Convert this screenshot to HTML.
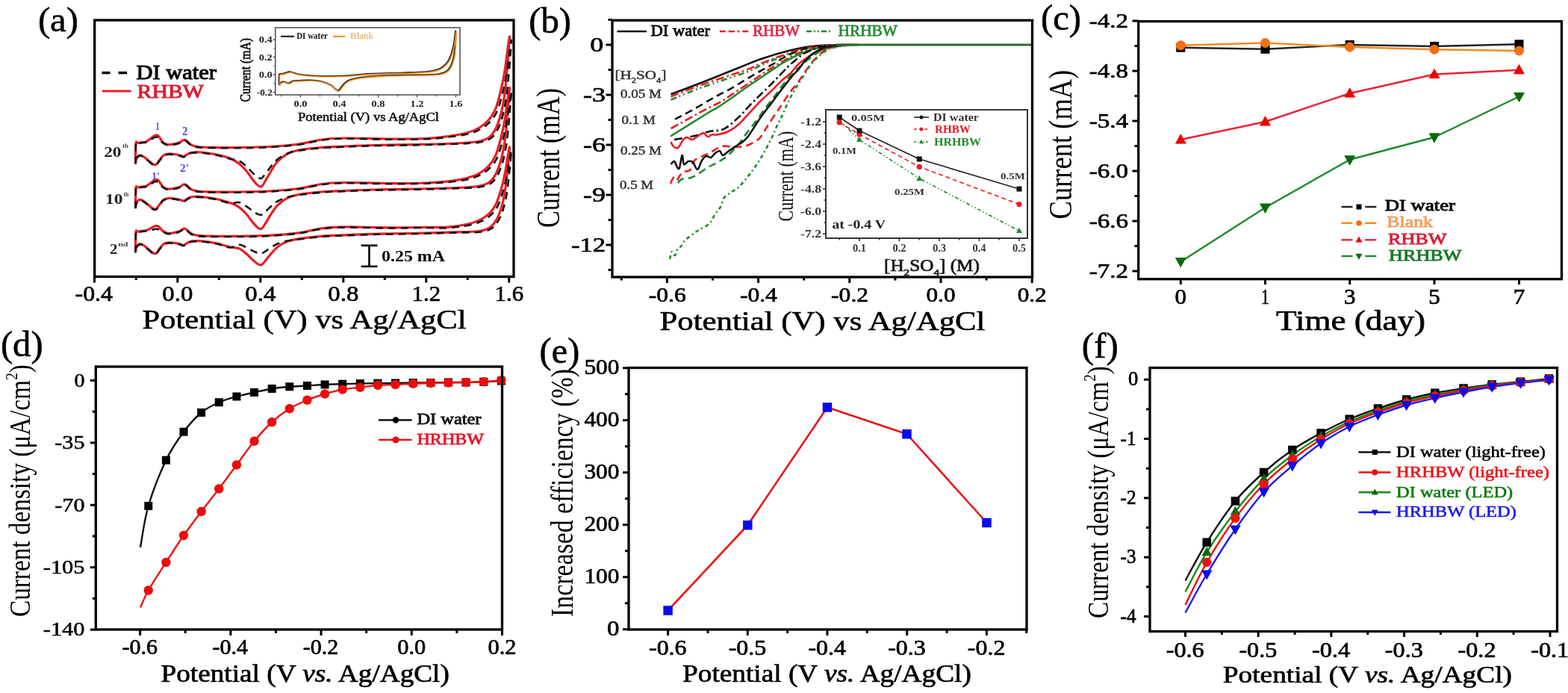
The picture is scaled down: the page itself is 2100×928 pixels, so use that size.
<!DOCTYPE html>
<html><head><meta charset="utf-8"><style>
html,body{margin:0;padding:0;background:#fff;}
svg{display:block;}
text{font-family:'Liberation Serif','Times New Roman',serif;}
</style></head><body>
<svg width="2100" height="928" viewBox="0 0 2100 928">
<rect x="0" y="0" width="2100" height="928" fill="#fff"/>
<path d="M181.5,219 C181.58,214.5 181.58,196.58 182,192 C182.42,187.42 182.67,191.75 184,191.5 C185.33,191.25 188.17,190.75 190,190.5 C191.83,190.25 193.33,190.58 195,190 C196.67,189.42 198.33,188.17 200,187 C201.67,185.83 203.58,184 205,183 C206.42,182 207.33,181.17 208.5,181 C209.67,180.83 210.92,181.17 212,182 C213.08,182.83 214,184.58 215,186 C216,187.42 216.5,189.25 218,190.5 C219.5,191.75 221.67,193.08 224,193.5 C226.33,193.92 229.33,193.42 232,193 C234.67,192.58 237.67,191.92 240,191 C242.33,190.08 244.5,188 246,187.5 C247.5,187 247.83,187.33 249,188 C250.17,188.67 251.67,190.42 253,191.5 C254.33,192.58 255,193.67 257,194.5 C259,195.33 261.17,196.03 265,196.5 C268.83,196.97 270.83,197.13 280,197.3 C289.17,197.47 306.67,197.63 320,197.5 C333.33,197.37 346.67,197.25 360,196.5 C373.33,195.75 389.17,194.42 400,193 C410.83,191.58 417.5,189.25 425,188 C432.5,186.75 437.5,186 445,185.5 C452.5,185 457.5,184.92 470,185 C482.5,185.08 503.33,185.92 520,186 C536.67,186.08 556.67,186.08 570,185.5 C583.33,184.92 590.83,183.75 600,182.5 C609.17,181.25 618,179.92 625,178 C632,176.08 637,174 642,171 C647,168 651.33,164.33 655,160 C658.67,155.67 661.33,151.67 664,145 C666.67,138.33 669,128.33 671,120 C673,111.67 674.5,104.17 676,95 C677.5,85.83 678.92,72.67 680,65 C681.08,57.33 682.33,48.17 682.5,49 C682.67,49.83 681.58,62.33 681,70 C680.42,77.67 679.83,85.83 679,95 C678.17,104.17 677.33,115.5 676,125 C674.67,134.5 673,144.17 671,152 C669,159.83 666.67,166.67 664,172 C661.33,177.33 659,181.08 655,184 C651,186.92 647.5,188.17 640,189.5 C632.5,190.83 623.33,191.33 610,192 C596.67,192.67 578.33,193.08 560,193.5 C541.67,193.92 516.67,194.08 500,194.5 C483.33,194.92 471.67,195.5 460,196 C448.33,196.5 440,196.67 430,197.5 C420,198.33 407.5,199.58 400,201 C392.5,202.42 389.67,203.5 385,206 C380.33,208.5 375.67,212.17 372,216 C368.33,219.83 365.83,224.5 363,229 C360.17,233.5 357.17,239.5 355,243 C352.83,246.5 351.67,249.17 350,250 C348.33,250.83 347,249.67 345,248 C343,246.33 340.5,243.17 338,240 C335.5,236.83 333,232.5 330,229 C327,225.5 323.67,221.83 320,219 C316.33,216.17 313,214 308,212 C303,210 296.33,208.33 290,207 C283.67,205.67 275.33,204.5 270,204 C264.67,203.5 261,203.67 258,204 C255,204.33 254,205.08 252,206 C250,206.92 247.83,209.17 246,209.5 C244.17,209.83 243,208.5 241,208 C239,207.5 236.5,206.83 234,206.5 C231.5,206.17 228.5,205.75 226,206 C223.5,206.25 221,206.67 219,208 C217,209.33 215.67,211.92 214,214 C212.33,216.08 210.5,219.5 209,220.5 C207.5,221.5 206.5,220.75 205,220 C203.5,219.25 201.83,217.5 200,216 C198.17,214.5 195.83,212.33 194,211 C192.17,209.67 190.5,208.33 189,208 C187.5,207.67 186.08,208.17 185,209 C183.92,209.83 183.08,211.33 182.5,213 C181.92,214.67 181.67,218 181.5,219" fill="none" stroke="#ec1c24" stroke-width="3.2" stroke-linejoin="round"/>
<path d="M181.5,278.5 C181.58,274 181.58,256.08 182,251.5 C182.42,246.92 182.67,251.25 184,251 C185.33,250.75 188.17,250.25 190,250 C191.83,249.75 193.33,250.08 195,249.5 C196.67,248.92 198.33,247.67 200,246.5 C201.67,245.33 203.58,243.5 205,242.5 C206.42,241.5 207.33,240.67 208.5,240.5 C209.67,240.33 210.92,240.67 212,241.5 C213.08,242.33 214,244.08 215,245.5 C216,246.92 216.5,248.75 218,250 C219.5,251.25 221.67,252.58 224,253 C226.33,253.42 229.33,252.92 232,252.5 C234.67,252.08 237.67,251.42 240,250.5 C242.33,249.58 244.5,247.5 246,247 C247.5,246.5 247.83,246.83 249,247.5 C250.17,248.17 251.67,249.92 253,251 C254.33,252.08 255,253.17 257,254 C259,254.83 261.17,255.53 265,256 C268.83,256.47 270.83,256.63 280,256.8 C289.17,256.97 306.67,257.13 320,257 C333.33,256.87 346.67,256.75 360,256 C373.33,255.25 389.17,253.92 400,252.5 C410.83,251.08 417.5,248.75 425,247.5 C432.5,246.25 437.5,245.5 445,245 C452.5,244.5 457.5,244.42 470,244.5 C482.5,244.58 503.33,245.42 520,245.5 C536.67,245.58 556.67,245.44 570,245 C583.33,244.56 590.83,243.94 600,242.88 C609.17,241.82 618,240.46 625,238.66 C632,236.86 637,234.9 642,232.08 C647,229.26 651.33,225.82 655,221.75 C658.67,217.68 661.33,213.92 664,207.66 C666.67,201.4 669,192.01 671,184.18 C673,176.36 674.5,169.31 676,160.7 C677.5,152.09 678.92,139.73 680,132.53 C681.08,125.33 682.33,116.72 682.5,117.5 C682.67,118.28 681.58,130.02 681,137.22 C680.42,144.42 679.83,152.09 679,160.7 C678.17,169.31 677.33,179.96 676,188.88 C674.67,197.8 673,206.88 671,214.24 C669,221.59 666.67,228.01 664,233.02 C661.33,238.03 659,241.55 655,244.29 C651,247.03 647.5,248.25 640,249.46 C632.5,250.66 623.33,250.91 610,251.5 C596.67,252.09 578.33,252.58 560,253 C541.67,253.42 516.67,253.58 500,254 C483.33,254.42 471.67,255 460,255.5 C448.33,256 440,256.17 430,257 C420,257.83 407.5,259.13 400,260.5 C392.5,261.87 389.67,262.85 385,265.19 C380.33,267.54 375.67,270.98 372,274.58 C368.33,278.18 365.83,282.56 363,286.79 C360.17,291.01 357.17,296.64 355,299.93 C352.83,303.21 351.67,305.72 350,306.5 C348.33,307.28 347,306.19 345,304.62 C343,303.06 340.5,300.09 338,297.11 C335.5,294.14 333,290.07 330,286.79 C327,283.5 323.67,279.95 320,277.4 C316.33,274.85 313,273.32 308,271.5 C303,269.68 296.33,267.83 290,266.5 C283.67,265.17 275.33,264 270,263.5 C264.67,263 261,263.17 258,263.5 C255,263.83 254,264.58 252,265.5 C250,266.42 247.83,268.67 246,269 C244.17,269.33 243,268 241,267.5 C239,267 236.5,266.33 234,266 C231.5,265.67 228.5,265.25 226,265.5 C223.5,265.75 221,266.17 219,267.5 C217,268.83 215.67,271.42 214,273.5 C212.33,275.58 210.5,279 209,280 C207.5,281 206.5,280.25 205,279.5 C203.5,278.75 201.83,277 200,275.5 C198.17,274 195.83,271.83 194,270.5 C192.17,269.17 190.5,267.83 189,267.5 C187.5,267.17 186.08,267.67 185,268.5 C183.92,269.33 183.08,270.83 182.5,272.5 C181.92,274.17 181.67,277.5 181.5,278.5" fill="none" stroke="#ec1c24" stroke-width="3.2" stroke-linejoin="round"/>
<path d="M181.5,337.8 C181.58,333.3 181.58,315.38 182,310.8 C182.42,306.22 182.67,310.55 184,310.3 C185.33,310.05 188.17,309.55 190,309.3 C191.83,309.05 193.33,309.23 195,308.8 C196.67,308.37 198.33,307.52 200,306.7 C201.67,305.88 203.58,304.6 205,303.9 C206.42,303.2 207.33,302.62 208.5,302.5 C209.67,302.38 210.92,302.62 212,303.2 C213.08,303.78 214,304.98 215,306 C216,307.02 216.5,308.25 218,309.3 C219.5,310.35 221.67,311.88 224,312.3 C226.33,312.72 229.33,312.22 232,311.8 C234.67,311.38 237.67,310.72 240,309.8 C242.33,308.88 244.5,306.8 246,306.3 C247.5,305.8 247.83,306.13 249,306.8 C250.17,307.47 251.67,309.22 253,310.3 C254.33,311.38 255,312.47 257,313.3 C259,314.13 261.17,314.83 265,315.3 C268.83,315.77 270.83,315.93 280,316.1 C289.17,316.27 306.67,316.43 320,316.3 C333.33,316.17 346.67,316.05 360,315.3 C373.33,314.55 389.17,313.22 400,311.8 C410.83,310.38 417.5,308.05 425,306.8 C432.5,305.55 437.5,304.8 445,304.3 C452.5,303.8 457.5,303.72 470,303.8 C482.5,303.88 503.33,304.72 520,304.8 C536.67,304.88 556.67,304.41 570,304.3 C583.33,304.19 590.83,304.77 600,304.14 C609.17,303.51 618,302.06 625,300.52 C632,298.98 637,297.31 642,294.89 C647,292.48 651.33,289.53 655,286.05 C658.67,282.57 661.33,279.35 664,273.99 C666.67,268.63 669,260.59 671,253.89 C673,247.19 674.5,241.16 676,233.79 C677.5,226.42 678.92,215.83 680,209.66 C681.08,203.5 682.33,196.13 682.5,196.8 C682.67,197.47 681.58,207.52 681,213.69 C680.42,219.85 679.83,226.42 679,233.79 C678.17,241.16 677.33,250.27 676,257.91 C674.67,265.55 673,273.32 671,279.62 C669,285.92 666.67,291.41 664,295.7 C661.33,299.99 659,303 655,305.35 C651,307.69 647.5,308.86 640,309.77 C632.5,310.68 623.33,310.38 610,310.8 C596.67,311.22 578.33,311.88 560,312.3 C541.67,312.72 516.67,312.88 500,313.3 C483.33,313.72 471.67,314.3 460,314.8 C448.33,315.3 440,315.47 430,316.3 C420,317.13 407.5,318.62 400,319.8 C392.5,320.98 389.67,321.59 385,323.37 C380.33,325.16 375.67,327.78 372,330.51 C368.33,333.25 365.83,336.59 363,339.8 C360.17,343.01 357.17,347.3 355,349.8 C352.83,352.3 351.67,354.2 350,354.8 C348.33,355.4 347,354.56 345,353.37 C343,352.18 340.5,349.92 338,347.66 C335.5,345.4 333,342.3 330,339.8 C327,337.3 323.67,334.16 320,332.66 C316.33,331.16 313,331.94 308,330.8 C303,329.66 296.33,327.13 290,325.8 C283.67,324.47 275.33,323.3 270,322.8 C264.67,322.3 261,322.47 258,322.8 C255,323.13 254,323.88 252,324.8 C250,325.72 247.83,327.97 246,328.3 C244.17,328.63 243,327.3 241,326.8 C239,326.3 236.5,325.63 234,325.3 C231.5,324.97 228.5,324.55 226,324.8 C223.5,325.05 221,325.47 219,326.8 C217,328.13 215.67,330.72 214,332.8 C212.33,334.88 210.5,338.3 209,339.3 C207.5,340.3 206.5,339.55 205,338.8 C203.5,338.05 201.83,336.3 200,334.8 C198.17,333.3 195.83,331.13 194,329.8 C192.17,328.47 190.5,327.13 189,326.8 C187.5,326.47 186.08,326.97 185,327.8 C183.92,328.63 183.08,330.13 182.5,331.8 C181.92,333.47 181.67,336.8 181.5,337.8" fill="none" stroke="#ec1c24" stroke-width="3.2" stroke-linejoin="round"/>
<path d="M181.5,219.7 C181.58,215.2 181.58,197.28 182,192.7 C182.42,188.12 182.67,192.45 184,192.2 C185.33,191.95 188.17,191.45 190,191.2 C191.83,190.95 193.33,191.18 195,190.7 C196.67,190.22 198.33,189.23 200,188.3 C201.67,187.37 203.58,185.9 205,185.1 C206.42,184.3 207.33,183.63 208.5,183.5 C209.67,183.37 210.92,183.63 212,184.3 C213.08,184.97 214,186.35 215,187.5 C216,188.65 216.5,190.08 218,191.2 C219.5,192.32 221.67,193.78 224,194.2 C226.33,194.62 229.33,194.12 232,193.7 C234.67,193.28 237.67,192.62 240,191.7 C242.33,190.78 244.5,188.7 246,188.2 C247.5,187.7 247.83,188.03 249,188.7 C250.17,189.37 251.67,191.12 253,192.2 C254.33,193.28 255,194.37 257,195.2 C259,196.03 261.17,196.73 265,197.2 C268.83,197.67 270.83,197.83 280,198 C289.17,198.17 306.67,198.33 320,198.2 C333.33,198.07 346.67,197.95 360,197.2 C373.33,196.45 389.17,195.12 400,193.7 C410.83,192.28 417.5,189.95 425,188.7 C432.5,187.45 437.5,186.7 445,186.2 C452.5,185.7 457.5,185.62 470,185.7 C482.5,185.78 503.33,186.62 520,186.7 C536.67,186.78 556.67,186.72 570,186.2 C583.33,185.68 590.42,184.76 600,183.59 C609.58,182.43 620.08,181.08 627.5,179.21 C634.92,177.35 639.5,175.32 644.5,172.4 C649.5,169.48 653.83,165.92 657.5,161.7 C661.17,157.48 663.83,153.59 666.5,147.11 C669.17,140.62 671.5,130.89 673.5,122.78 C675.5,114.67 677,107.38 678.5,98.46 C680,89.54 681.42,76.73 682.5,69.27 C683.58,61.81 684.83,52.89 685,53.7 C685.17,54.51 684.08,66.67 683.5,74.13 C682.92,81.59 682.33,89.54 681.5,98.46 C680.67,107.38 679.83,118.4 678.5,127.65 C677.17,136.89 675.5,146.29 673.5,153.92 C671.5,161.54 669.17,168.19 666.5,173.38 C663.83,178.56 661.5,182.21 657.5,185.05 C653.5,187.89 650,189.13 642.5,190.4 C635,191.68 626.25,192.07 612.5,192.7 C598.75,193.33 578.75,193.78 560,194.2 C541.25,194.62 516.67,194.78 500,195.2 C483.33,195.62 471.67,196.2 460,196.7 C448.33,197.2 440,197.37 430,198.2 C420,199.03 407.5,200.49 400,201.7 C392.5,202.91 389.67,203.59 385,205.48 C380.33,207.36 375.67,210.13 372,213.03 C368.33,215.92 365.83,219.44 363,222.84 C360.17,226.24 357.17,230.77 355,233.41 C352.83,236.06 351.67,238.07 350,238.7 C348.33,239.33 347,238.45 345,237.19 C343,235.93 340.5,233.54 338,231.15 C335.5,228.76 333,225.49 330,222.84 C327,220.2 323.67,216.98 320,215.29 C316.33,213.6 313,213.97 308,212.7 C303,211.43 296.33,209.03 290,207.7 C283.67,206.37 275.33,205.2 270,204.7 C264.67,204.2 261,204.37 258,204.7 C255,205.03 254,205.78 252,206.7 C250,207.62 247.83,209.87 246,210.2 C244.17,210.53 243,209.2 241,208.7 C239,208.2 236.5,207.53 234,207.2 C231.5,206.87 228.5,206.45 226,206.7 C223.5,206.95 221,207.37 219,208.7 C217,210.03 215.67,212.62 214,214.7 C212.33,216.78 210.5,220.2 209,221.2 C207.5,222.2 206.5,221.45 205,220.7 C203.5,219.95 201.83,218.2 200,216.7 C198.17,215.2 195.83,213.03 194,211.7 C192.17,210.37 190.5,209.03 189,208.7 C187.5,208.37 186.08,208.87 185,209.7 C183.92,210.53 183.08,212.03 182.5,213.7 C181.92,215.37 181.67,218.7 181.5,219.7" fill="none" stroke="#151515" stroke-width="2.6" stroke-dasharray="10,7" stroke-linejoin="round"/>
<path d="M181.5,279.2 C181.58,274.7 181.58,256.78 182,252.2 C182.42,247.62 182.67,251.95 184,251.7 C185.33,251.45 188.17,250.95 190,250.7 C191.83,250.45 193.33,250.68 195,250.2 C196.67,249.72 198.33,248.73 200,247.8 C201.67,246.87 203.58,245.4 205,244.6 C206.42,243.8 207.33,243.13 208.5,243 C209.67,242.87 210.92,243.13 212,243.8 C213.08,244.47 214,245.85 215,247 C216,248.15 216.5,249.58 218,250.7 C219.5,251.82 221.67,253.28 224,253.7 C226.33,254.12 229.33,253.62 232,253.2 C234.67,252.78 237.67,252.12 240,251.2 C242.33,250.28 244.5,248.2 246,247.7 C247.5,247.2 247.83,247.53 249,248.2 C250.17,248.87 251.67,250.62 253,251.7 C254.33,252.78 255,253.87 257,254.7 C259,255.53 261.17,256.23 265,256.7 C268.83,257.17 270.83,257.33 280,257.5 C289.17,257.67 306.67,257.83 320,257.7 C333.33,257.57 346.67,257.45 360,256.7 C373.33,255.95 389.17,254.62 400,253.2 C410.83,251.78 417.5,249.45 425,248.2 C432.5,246.95 437.5,246.2 445,245.7 C452.5,245.2 457.5,245.12 470,245.2 C482.5,245.28 503.33,246.12 520,246.2 C536.67,246.28 556.67,246.07 570,245.7 C583.33,245.33 590.42,244.95 600,243.97 C609.58,243 620.08,241.62 627.5,239.87 C634.92,238.12 639.5,236.22 644.5,233.48 C649.5,230.75 653.83,227.4 657.5,223.45 C661.17,219.5 663.83,215.85 666.5,209.77 C669.17,203.69 671.5,194.56 673.5,186.96 C675.5,179.36 677,172.52 678.5,164.16 C680,155.8 681.42,143.79 682.5,136.79 C683.58,129.8 684.83,121.44 685,122.2 C685.17,122.96 684.08,134.36 683.5,141.36 C682.92,148.35 682.33,155.8 681.5,164.16 C680.67,172.52 679.83,182.86 678.5,191.52 C677.17,200.19 675.5,209.01 673.5,216.15 C671.5,223.3 669.17,229.53 666.5,234.4 C663.83,239.26 661.5,242.68 657.5,245.34 C653.5,248 650,249.22 642.5,250.36 C635,251.5 626.25,251.64 612.5,252.2 C598.75,252.76 578.75,253.28 560,253.7 C541.25,254.12 516.67,254.28 500,254.7 C483.33,255.12 471.67,255.7 460,256.2 C448.33,256.7 440,256.87 430,257.7 C420,258.53 407.5,260.17 400,261.2 C392.5,262.23 389.67,262.55 385,263.9 C380.33,265.26 375.67,267.24 372,269.31 C368.33,271.39 365.83,273.91 363,276.34 C360.17,278.78 357.17,282.02 355,283.91 C352.83,285.81 351.67,287.25 350,287.7 C348.33,288.15 347,287.52 345,286.62 C343,285.72 340.5,284 338,282.29 C335.5,280.58 333,278.24 330,276.34 C327,274.45 323.67,271.63 320,270.93 C316.33,270.24 313,272.82 308,272.2 C303,271.58 296.33,268.53 290,267.2 C283.67,265.87 275.33,264.7 270,264.2 C264.67,263.7 261,263.87 258,264.2 C255,264.53 254,265.28 252,266.2 C250,267.12 247.83,269.37 246,269.7 C244.17,270.03 243,268.7 241,268.2 C239,267.7 236.5,267.03 234,266.7 C231.5,266.37 228.5,265.95 226,266.2 C223.5,266.45 221,266.87 219,268.2 C217,269.53 215.67,272.12 214,274.2 C212.33,276.28 210.5,279.7 209,280.7 C207.5,281.7 206.5,280.95 205,280.2 C203.5,279.45 201.83,277.7 200,276.2 C198.17,274.7 195.83,272.53 194,271.2 C192.17,269.87 190.5,268.53 189,268.2 C187.5,267.87 186.08,268.37 185,269.2 C183.92,270.03 183.08,271.53 182.5,273.2 C181.92,274.87 181.67,278.2 181.5,279.2" fill="none" stroke="#151515" stroke-width="2.6" stroke-dasharray="10,7" stroke-linejoin="round"/>
<path d="M181.5,338.5 C181.58,334 181.58,316.08 182,311.5 C182.42,306.92 182.67,311.25 184,311 C185.33,310.75 188.17,310.25 190,310 C191.83,309.75 193.33,309.73 195,309.5 C196.67,309.27 198.33,308.95 200,308.6 C201.67,308.25 203.58,307.7 205,307.4 C206.42,307.1 207.33,306.85 208.5,306.8 C209.67,306.75 210.92,306.85 212,307.1 C213.08,307.35 214,307.82 215,308.3 C216,308.78 216.5,309.22 218,310 C219.5,310.78 221.67,312.58 224,313 C226.33,313.42 229.33,312.92 232,312.5 C234.67,312.08 237.67,311.42 240,310.5 C242.33,309.58 244.5,307.5 246,307 C247.5,306.5 247.83,306.83 249,307.5 C250.17,308.17 251.67,309.92 253,311 C254.33,312.08 255,313.17 257,314 C259,314.83 261.17,315.53 265,316 C268.83,316.47 270.83,316.63 280,316.8 C289.17,316.97 306.67,317.13 320,317 C333.33,316.87 346.67,316.75 360,316 C373.33,315.25 389.17,313.92 400,312.5 C410.83,311.08 417.5,308.75 425,307.5 C432.5,306.25 437.5,305.5 445,305 C452.5,304.5 457.5,304.42 470,304.5 C482.5,304.58 503.33,305.42 520,305.5 C536.67,305.58 556.67,305.04 570,305 C583.33,304.96 590.42,305.78 600,305.23 C609.58,304.69 620.08,303.23 627.5,301.74 C634.92,300.25 639.5,298.63 644.5,296.3 C649.5,293.97 653.83,291.12 657.5,287.75 C661.17,284.38 663.83,281.27 666.5,276.09 C669.17,270.91 671.5,263.14 673.5,256.67 C675.5,250.19 677,244.37 678.5,237.24 C680,230.12 681.42,219.89 682.5,213.93 C683.58,207.98 684.83,200.85 685,201.5 C685.17,202.15 684.08,211.86 683.5,217.82 C682.92,223.77 682.33,230.12 681.5,237.24 C680.67,244.37 679.83,253.17 678.5,260.55 C677.17,267.94 675.5,275.45 673.5,281.53 C671.5,287.62 669.17,292.93 666.5,297.07 C663.83,301.22 661.5,304.13 657.5,306.4 C653.5,308.66 650,309.82 642.5,310.67 C635,311.52 626.25,311.11 612.5,311.5 C598.75,311.89 578.75,312.58 560,313 C541.25,313.42 516.67,313.58 500,314 C483.33,314.42 471.67,315 460,315.5 C448.33,316 440,316.17 430,317 C420,317.83 407.5,319.59 400,320.5 C392.5,321.41 389.67,321.47 385,322.44 C380.33,323.41 375.67,324.83 372,326.32 C368.33,327.8 365.83,329.61 363,331.36 C360.17,333.1 357.17,335.43 355,336.79 C352.83,338.14 351.67,339.18 350,339.5 C348.33,339.82 347,339.37 345,338.72 C343,338.08 340.5,336.85 338,335.62 C335.5,334.39 333,332.71 330,331.36 C327,330 323.67,327.46 320,327.48 C316.33,327.5 313,331.66 308,331.5 C303,331.34 296.33,327.83 290,326.5 C283.67,325.17 275.33,324 270,323.5 C264.67,323 261,323.17 258,323.5 C255,323.83 254,324.58 252,325.5 C250,326.42 247.83,328.67 246,329 C244.17,329.33 243,328 241,327.5 C239,327 236.5,326.33 234,326 C231.5,325.67 228.5,325.25 226,325.5 C223.5,325.75 221,326.17 219,327.5 C217,328.83 215.67,331.42 214,333.5 C212.33,335.58 210.5,339 209,340 C207.5,341 206.5,340.25 205,339.5 C203.5,338.75 201.83,337 200,335.5 C198.17,334 195.83,331.83 194,330.5 C192.17,329.17 190.5,327.83 189,327.5 C187.5,327.17 186.08,327.67 185,328.5 C183.92,329.33 183.08,330.83 182.5,332.5 C181.92,334.17 181.67,337.5 181.5,338.5" fill="none" stroke="#151515" stroke-width="2.6" stroke-dasharray="10,7" stroke-linejoin="round"/>
<rect x="126.7" y="27" width="561.3" height="343.5" fill="none" stroke="#000" stroke-width="3.3"/>
<line x1="237.8" y1="370.5" x2="237.8" y2="378.5" stroke="#000" stroke-width="3"/>
<line x1="348.8" y1="370.5" x2="348.8" y2="378.5" stroke="#000" stroke-width="3"/>
<line x1="459.8" y1="370.5" x2="459.8" y2="378.5" stroke="#000" stroke-width="3"/>
<line x1="570.8" y1="370.5" x2="570.8" y2="378.5" stroke="#000" stroke-width="3"/>
<line x1="681.8" y1="370.5" x2="681.8" y2="378.5" stroke="#000" stroke-width="3"/>
<line x1="182.3" y1="370.5" x2="182.3" y2="375" stroke="#000" stroke-width="3"/>
<line x1="293.3" y1="370.5" x2="293.3" y2="375" stroke="#000" stroke-width="3"/>
<line x1="404.3" y1="370.5" x2="404.3" y2="375" stroke="#000" stroke-width="3"/>
<line x1="515.3" y1="370.5" x2="515.3" y2="375" stroke="#000" stroke-width="3"/>
<line x1="626.3" y1="370.5" x2="626.3" y2="375" stroke="#000" stroke-width="3"/>
<text x="100.55" y="403.2" font-size="29.5" fill="#000" font-weight="normal" font-style="normal" textLength="50.5" lengthAdjust="spacingAndGlyphs" stroke="#000" stroke-width="0.7">-0.4</text>
<text x="217.3" y="403.2" font-size="29.5" fill="#000" font-weight="normal" font-style="normal" textLength="41" lengthAdjust="spacingAndGlyphs" stroke="#000" stroke-width="0.7">0.0</text>
<text x="328.3" y="403.2" font-size="29.5" fill="#000" font-weight="normal" font-style="normal" textLength="41" lengthAdjust="spacingAndGlyphs" stroke="#000" stroke-width="0.7">0.4</text>
<text x="439.3" y="403.2" font-size="29.5" fill="#000" font-weight="normal" font-style="normal" textLength="41" lengthAdjust="spacingAndGlyphs" stroke="#000" stroke-width="0.7">0.8</text>
<text x="551.55" y="403.2" font-size="29.5" fill="#000" font-weight="normal" font-style="normal" textLength="38.5" lengthAdjust="spacingAndGlyphs" stroke="#000" stroke-width="0.7">1.2</text>
<text x="662.55" y="403.2" font-size="29.5" fill="#000" font-weight="normal" font-style="normal" textLength="38.5" lengthAdjust="spacingAndGlyphs" stroke="#000" stroke-width="0.7">1.6</text>
<line x1="126.5" y1="370.5" x2="126.5" y2="378.5" stroke="#000" stroke-width="3"/>
<text x="190.5" y="439.5" font-size="36.5" fill="#000" font-weight="normal" font-style="normal" textLength="434" lengthAdjust="spacingAndGlyphs" stroke="#000" stroke-width="0.6">Potential (V) vs Ag/AgCl</text>
<line x1="136.5" y1="97.5" x2="147.5" y2="97.5" stroke="#000" stroke-width="3.5"/>
<line x1="158.5" y1="97.5" x2="170" y2="97.5" stroke="#000" stroke-width="3.5"/>
<line x1="137" y1="122" x2="175.5" y2="122" stroke="#ec1c24" stroke-width="3.2"/>
<text x="182.5" y="106.3" font-size="27.5" fill="#000" font-weight="normal" font-style="normal" textLength="107.5" lengthAdjust="spacingAndGlyphs" stroke="#000" stroke-width="1">DI water</text>
<text x="183.5" y="131" font-size="25.5" fill="#dc1e36" font-weight="normal" font-style="normal" textLength="89.5" lengthAdjust="spacingAndGlyphs" stroke="#dc1e36" stroke-width="1">RHBW</text>
<text x="139.2" y="210.2" font-size="19.5" fill="#222" font-weight="bold" font-style="normal" textLength="23.3" lengthAdjust="spacingAndGlyphs">20</text>
<text x="164" y="198" font-size="8" fill="#444" font-weight="bold" font-style="normal" textLength="8" lengthAdjust="spacingAndGlyphs">th</text>
<text x="141" y="273.2" font-size="19.5" fill="#222" font-weight="bold" font-style="normal" textLength="23.5" lengthAdjust="spacingAndGlyphs">10</text>
<text x="165.5" y="263" font-size="8" fill="#444" font-weight="bold" font-style="normal" textLength="7" lengthAdjust="spacingAndGlyphs">th</text>
<text x="147" y="340" font-size="19.5" fill="#222" font-weight="bold" font-style="normal" textLength="10.5" lengthAdjust="spacingAndGlyphs">2</text>
<text x="158.5" y="330" font-size="8" fill="#444" font-weight="bold" font-style="normal" textLength="13" lengthAdjust="spacingAndGlyphs">nd</text>
<text x="208.5" y="174" font-size="15" fill="#4a4ae6" font-weight="bold" font-style="normal" textLength="5" lengthAdjust="spacingAndGlyphs">1</text>
<text x="244" y="181" font-size="17" fill="#4a4ae6" font-weight="bold" font-style="normal" textLength="7.5" lengthAdjust="spacingAndGlyphs">2</text>
<text x="241" y="230" font-size="15" fill="#4a4ae6" font-weight="bold" font-style="normal" textLength="12" lengthAdjust="spacingAndGlyphs">2'</text>
<text x="203" y="241" font-size="15" fill="#4a4ae6" font-weight="bold" font-style="normal" textLength="11" lengthAdjust="spacingAndGlyphs">1'</text>
<line x1="494.5" y1="328.7" x2="494.5" y2="356.8" stroke="#000" stroke-width="2.6"/>
<line x1="483.6" y1="328.7" x2="505.5" y2="328.7" stroke="#000" stroke-width="2.6"/>
<line x1="483.6" y1="356.8" x2="505.5" y2="356.8" stroke="#000" stroke-width="2.6"/>
<text x="511" y="350" font-size="21" fill="#000" font-weight="bold" font-style="normal" textLength="85" lengthAdjust="spacingAndGlyphs">0.25 mA</text>
<path d="M374,114 C374,111.67 373.33,102.5 374,100 C374.67,97.5 376.5,99.42 378,99 C379.5,98.58 381.33,97.97 383,97.5 C384.67,97.03 386.33,96.2 388,96.2 C389.67,96.2 391,96.95 393,97.5 C395,98.05 395.5,98.83 400,99.5 C404.5,100.17 412.83,101.08 420,101.5 C427.17,101.92 434.67,102.08 443,102 C451.33,101.92 461.33,101.53 470,101 C478.67,100.47 483.33,99.38 495,98.8 C506.67,98.22 527.17,97.97 540,97.5 C552.83,97.03 564,96.83 572,96 C580,95.17 583.67,94.33 588,92.5 C592.33,90.67 595.33,88.08 598,85 C600.67,81.92 602.33,78.5 604,74 C605.67,69.5 606.97,63.42 608,58 C609.03,52.58 609.95,41.17 610.2,41.5 C610.45,41.83 609.87,54.42 609.5,60 C609.13,65.58 608.92,70.33 608,75 C607.08,79.67 605.67,84.58 604,88 C602.33,91.42 601.17,93.58 598,95.5 C594.83,97.42 593,98.67 585,99.5 C577,100.33 560.67,100.25 550,100.5 C539.33,100.75 531,100.58 521,101 C511,101.42 498.5,102.08 490,103 C481.5,103.92 474.67,105.17 470,106.5 C465.33,107.83 464.17,109.25 462,111 C459.83,112.75 458.5,115.25 457,117 C455.5,118.75 454.33,121.17 453,121.5 C451.67,121.83 450.67,120.25 449,119 C447.33,117.75 446.17,115.67 443,114 C439.83,112.33 434.33,110.08 430,109 C425.67,107.92 422,107.67 417,107.5 C412,107.33 404.17,107.83 400,108 C395.83,108.17 394.17,107.92 392,108.5 C389.83,109.08 388.67,111.25 387,111.5 C385.33,111.75 383.5,110.33 382,110 C380.5,109.67 379.17,109.17 378,109.5 C376.83,109.83 375.67,111.25 375,112 C374.33,112.75 374.17,113.67 374,114" fill="none" stroke="#222" stroke-width="2.2" stroke-linejoin="round"/>
<path d="M374.8,114.8 C374.8,112.47 374.13,103.3 374.8,100.8 C375.47,98.3 377.3,100.22 378.8,99.8 C380.3,99.38 382.13,98.77 383.8,98.3 C385.47,97.83 387.13,97 388.8,97 C390.47,97 391.8,97.75 393.8,98.3 C395.8,98.85 396.3,99.63 400.8,100.3 C405.3,100.97 413.63,101.88 420.8,102.3 C427.97,102.72 435.47,102.88 443.8,102.8 C452.13,102.72 462.13,102.33 470.8,101.8 C479.47,101.27 484.13,100.18 495.8,99.6 C507.47,99.02 527.97,98.77 540.8,98.3 C553.63,97.83 564.8,97.63 572.8,96.8 C580.8,95.97 584.47,95.13 588.8,93.3 C593.13,91.47 596.13,88.88 598.8,85.8 C601.47,82.72 603.13,79.3 604.8,74.8 C606.47,70.3 607.77,64.22 608.8,58.8 C609.83,53.38 610.75,41.97 611,42.3 C611.25,42.63 610.67,55.22 610.3,60.8 C609.93,66.38 609.72,71.13 608.8,75.8 C607.88,80.47 606.47,85.38 604.8,88.8 C603.13,92.22 601.97,94.38 598.8,96.3 C595.63,98.22 593.8,99.47 585.8,100.3 C577.8,101.13 561.47,101.05 550.8,101.3 C540.13,101.55 531.8,101.38 521.8,101.8 C511.8,102.22 499.3,102.88 490.8,103.8 C482.3,104.72 475.47,105.97 470.8,107.3 C466.13,108.63 464.97,110.05 462.8,111.8 C460.63,113.55 459.3,116.05 457.8,117.8 C456.3,119.55 455.13,121.97 453.8,122.3 C452.47,122.63 451.47,121.05 449.8,119.8 C448.13,118.55 446.97,116.47 443.8,114.8 C440.63,113.13 435.13,110.88 430.8,109.8 C426.47,108.72 422.8,108.47 417.8,108.3 C412.8,108.13 404.97,108.63 400.8,108.8 C396.63,108.97 394.97,108.72 392.8,109.3 C390.63,109.88 389.47,112.05 387.8,112.3 C386.13,112.55 384.3,111.13 382.8,110.8 C381.3,110.47 379.97,109.97 378.8,110.3 C377.63,110.63 376.47,112.05 375.8,112.8 C375.13,113.55 374.97,114.47 374.8,114.8" fill="none" stroke="#f28a1e" stroke-width="1.6" stroke-linejoin="round"/>
<rect x="368.75" y="37" width="247.25" height="90" fill="none" stroke="#555" stroke-width="1.6"/>
<line x1="368.75" y1="53" x2="365.5" y2="53" stroke="#555" stroke-width="1.4"/>
<line x1="368.75" y1="76.5" x2="365.5" y2="76.5" stroke="#555" stroke-width="1.4"/>
<line x1="368.75" y1="100" x2="365.5" y2="100" stroke="#555" stroke-width="1.4"/>
<line x1="368.75" y1="123.5" x2="365.5" y2="123.5" stroke="#555" stroke-width="1.4"/>
<line x1="368.75" y1="64.75" x2="366.5" y2="64.75" stroke="#555" stroke-width="1.2"/>
<line x1="368.75" y1="88.25" x2="366.5" y2="88.25" stroke="#555" stroke-width="1.2"/>
<line x1="368.75" y1="111.75" x2="366.5" y2="111.75" stroke="#555" stroke-width="1.2"/>
<line x1="402.5" y1="127" x2="402.5" y2="130.5" stroke="#555" stroke-width="1.4"/>
<line x1="454.5" y1="127" x2="454.5" y2="130.5" stroke="#555" stroke-width="1.4"/>
<line x1="506.5" y1="127" x2="506.5" y2="130.5" stroke="#555" stroke-width="1.4"/>
<line x1="558.5" y1="127" x2="558.5" y2="130.5" stroke="#555" stroke-width="1.4"/>
<line x1="610.5" y1="127" x2="610.5" y2="130.5" stroke="#555" stroke-width="1.4"/>
<line x1="376.5" y1="127" x2="376.5" y2="129.5" stroke="#555" stroke-width="1.2"/>
<line x1="428.5" y1="127" x2="428.5" y2="129.5" stroke="#555" stroke-width="1.2"/>
<line x1="480.5" y1="127" x2="480.5" y2="129.5" stroke="#555" stroke-width="1.2"/>
<line x1="532.5" y1="127" x2="532.5" y2="129.5" stroke="#555" stroke-width="1.2"/>
<line x1="584.5" y1="127" x2="584.5" y2="129.5" stroke="#555" stroke-width="1.2"/>
<text x="346.8" y="57.2" font-size="12" fill="#222" font-weight="bold" font-style="normal" textLength="18" lengthAdjust="spacingAndGlyphs">0.4</text>
<text x="346.8" y="80.7" font-size="12" fill="#222" font-weight="bold" font-style="normal" textLength="18" lengthAdjust="spacingAndGlyphs">0.2</text>
<text x="346.8" y="104.2" font-size="12" fill="#222" font-weight="bold" font-style="normal" textLength="18" lengthAdjust="spacingAndGlyphs">0.0</text>
<text x="343.8" y="127.7" font-size="12" fill="#222" font-weight="bold" font-style="normal" textLength="21" lengthAdjust="spacingAndGlyphs">-0.2</text>
<text x="393.5" y="142.5" font-size="12.5" fill="#222" font-weight="bold" font-style="normal" textLength="18" lengthAdjust="spacingAndGlyphs">0.0</text>
<text x="445.5" y="142.5" font-size="12.5" fill="#222" font-weight="bold" font-style="normal" textLength="18" lengthAdjust="spacingAndGlyphs">0.4</text>
<text x="497.5" y="142.5" font-size="12.5" fill="#222" font-weight="bold" font-style="normal" textLength="18" lengthAdjust="spacingAndGlyphs">0.8</text>
<text x="549.5" y="142.5" font-size="12.5" fill="#222" font-weight="bold" font-style="normal" textLength="18" lengthAdjust="spacingAndGlyphs">1.2</text>
<text x="601.5" y="142.5" font-size="12.5" fill="#222" font-weight="bold" font-style="normal" textLength="18" lengthAdjust="spacingAndGlyphs">1.6</text>
<text x="399" y="162.3" font-size="17.5" fill="#111" font-weight="normal" font-style="normal" textLength="189" lengthAdjust="spacingAndGlyphs" stroke="#111" stroke-width="0.6">Potential (V) vs Ag/AgCl</text>
<text transform="translate(334.6,136.5) scale(1.2474,1) rotate(-90) scale(1.0083,1)" font-size="15.5" fill="#111" font-weight="normal" stroke="#111" stroke-width="0.6"><tspan>Current (mA)</tspan></text>
<line x1="376" y1="48.75" x2="394" y2="48.75" stroke="#111" stroke-width="2"/>
<text x="397.2" y="52" font-size="11.5" fill="#111" font-weight="bold" font-style="normal" textLength="41.8" lengthAdjust="spacingAndGlyphs">DI water</text>
<line x1="446" y1="48.75" x2="462.5" y2="48.75" stroke="#f28a1e" stroke-width="2"/>
<text x="469" y="52" font-size="11.5" fill="#f4a050" font-weight="normal" font-style="normal" textLength="31" lengthAdjust="spacingAndGlyphs">Blank</text>
<text x="50.9" y="41.7" font-size="47.3" fill="#000" font-weight="normal" font-style="normal" textLength="54.1" lengthAdjust="spacingAndGlyphs" stroke="#000" stroke-width="0.6">(a)</text>
<path d="M898.5,126.3 C905.42,123.67 924.75,116.47 940,110.5 C955.25,104.53 976.17,95.97 990,90.5 C1003.83,85.03 1011.83,81.5 1023,77.7 C1034.17,73.9 1046.83,70.25 1057,67.7 C1067.17,65.15 1076.17,63.57 1084,62.4 C1091.83,61.23 1096.33,61.07 1104,60.7 C1111.67,60.33 1122.33,60.32 1130,60.2 C1137.67,60.08 1146.67,60.03 1150,60" fill="none" stroke="#111" stroke-width="2.6" stroke-linejoin="round"/>
<path d="M898.5,129.3 C905.42,126.67 923.3,119.42 940,113.5 C956.7,107.58 985.92,98.38 998.7,93.8 C1011.48,89.22 1010.35,88.63 1016.7,86 C1023.05,83.37 1030.67,80.25 1036.8,78 C1042.93,75.75 1047.93,74.43 1053.5,72.5 C1059.07,70.57 1064.12,68.07 1070.2,66.4 C1076.28,64.73 1082.53,63.48 1090,62.5 C1097.47,61.52 1106.67,60.92 1115,60.5 C1123.33,60.08 1135.83,60.08 1140,60" fill="none" stroke="#ec1c24" stroke-width="2.6" stroke-dasharray="11,4,2.5,4" stroke-linejoin="round"/>
<path d="M898.5,133.5 C905.42,130.75 923.3,123.08 940,117 C956.7,110.92 985.92,101.75 998.7,97 C1011.48,92.25 1010.35,91.33 1016.7,88.5 C1023.05,85.67 1030.67,82.42 1036.8,80 C1042.93,77.58 1047.93,76.08 1053.5,74 C1059.07,71.92 1064.12,69.33 1070.2,67.5 C1076.28,65.67 1082.53,64.13 1090,63 C1097.47,61.87 1106.67,61.2 1115,60.7 C1123.33,60.2 1135.83,60.12 1140,60" fill="none" stroke="#1e8a2a" stroke-width="2.6" stroke-dasharray="8,4,2,4,2,4" stroke-linejoin="round"/>
<path d="M904,159.6 C907.8,157.6 917.47,152.78 926.8,147.6 C936.13,142.42 951.23,133.38 960,128.5 C968.77,123.62 972.93,121.95 979.4,118.3 C985.87,114.65 992.58,110.32 998.8,106.6 C1005.02,102.88 1010.58,99.48 1016.7,96 C1022.82,92.52 1029.37,89.2 1035.5,85.7 C1041.63,82.2 1047.72,78 1053.5,75 C1059.28,72 1065.18,69.58 1070.2,67.7 C1075.22,65.82 1077.8,64.82 1083.6,63.7 C1089.4,62.58 1097.27,61.62 1105,61 C1112.73,60.38 1125.83,60.17 1130,60" fill="none" stroke="#111" stroke-width="2.6" stroke-dasharray="10,6" stroke-linejoin="round"/>
<path d="M898.7,172 C906.72,167.58 935.78,151.38 946.8,145.5 C957.82,139.62 958.88,140.1 964.8,136.7 C970.72,133.3 975.02,129.95 982.3,125.1 C989.58,120.25 1001.08,112.6 1008.5,107.6 C1015.92,102.6 1020.42,99.2 1026.8,95.1 C1033.18,91 1040.43,86.68 1046.8,83 C1053.17,79.32 1058.3,76 1065,73 C1071.7,70 1079.5,66.97 1087,65 C1094.5,63.03 1102,62.03 1110,61.2 C1118,60.37 1130.83,60.2 1135,60" fill="none" stroke="#ec1c24" stroke-width="2.6" stroke-dasharray="11,4,2.5,4" stroke-linejoin="round"/>
<path d="M898,182.5 C906.13,177.42 936.47,158.33 946.8,152 C957.13,145.67 954.57,147.92 960,144.5 C965.43,141.08 972.93,136 979.4,131.5 C985.87,127 992.33,122 998.8,117.5 C1005.27,113 1012.38,108.42 1018.2,104.5 C1024.02,100.58 1028.73,97.33 1033.7,94 C1038.67,90.67 1043.03,87.5 1048,84.5 C1052.97,81.5 1057.57,78.83 1063.5,76 C1069.43,73.17 1076.92,69.67 1083.6,67.5 C1090.28,65.33 1098.03,64.08 1103.6,63 C1109.17,61.92 1110.93,61.5 1117,61 C1123.07,60.5 1136.17,60.17 1140,60" fill="none" stroke="#1e8a2a" stroke-width="2.6" stroke-linejoin="round"/>
<path d="M903,187 C907.5,186.17 922.17,183.83 930,182 C937.83,180.17 943.38,177.57 950,176 C956.62,174.43 963.18,175.75 969.7,172.6 C976.22,169.45 983.45,162.27 989.1,157.1 C994.75,151.93 998.75,146.62 1003.6,141.6 C1008.45,136.58 1013.35,131.78 1018.2,127 C1023.05,122.22 1028.67,116.93 1032.7,112.9 C1036.73,108.87 1038.72,106.65 1042.4,102.8 C1046.08,98.95 1050.95,93.53 1054.8,89.8 C1058.65,86.07 1061.82,83.42 1065.5,80.4 C1069.18,77.38 1071.98,74.43 1076.9,71.7 C1081.82,68.97 1087.82,65.87 1095,64 C1102.18,62.13 1115.83,61.08 1120,60.5" fill="none" stroke="#111" stroke-width="2.6" stroke-dasharray="11,4,2.5,4" stroke-linejoin="round"/>
<path d="M898.5,190 C898.92,190.83 899.92,193.67 901,195 C902.08,196.33 903.67,197.67 905,198 C906.33,198.33 907.33,198.83 909,197 C910.67,195.17 913.17,189.17 915,187 C916.83,184.83 918,184 920,184 C922,184 924.5,187.33 927,187 C929.5,186.67 932.5,183.5 935,182 C937.5,180.5 939.83,177.83 942,178 C944.17,178.17 946,182.67 948,183 C950,183.33 952,180.43 954,180 C956,179.57 956.58,180.98 960,180.4 C963.42,179.82 969.65,178.77 974.5,176.5 C979.35,174.23 984.25,171 989.1,166.8 C993.95,162.6 998.75,156.48 1003.6,151.3 C1008.45,146.12 1013.35,140.55 1018.2,135.7 C1023.05,130.85 1027.85,126.88 1032.7,122.2 C1037.55,117.52 1042.93,111.65 1047.3,107.6 C1051.67,103.55 1055.08,101.67 1058.9,97.9 C1062.72,94.13 1066.08,88.7 1070.2,85 C1074.32,81.3 1079.13,78.47 1083.6,75.7 C1088.07,72.93 1092.55,70.4 1097,68.4 C1101.45,66.4 1104.8,65.02 1110.3,63.7 C1115.8,62.38 1126.72,61.03 1130,60.5" fill="none" stroke="#ec1c24" stroke-width="2.6" stroke-linejoin="round"/>
<path d="M908,245 C908.83,244.17 910.17,241.17 913,240 C915.83,238.83 921.33,239.17 925,238 C928.67,236.83 931.17,235.33 935,233 C938.83,230.67 943.83,226.5 948,224 C952.17,221.5 955.5,220.67 960,218 C964.5,215.33 970,212.33 975,208 C980,203.67 985.72,197.1 990,192 C994.28,186.9 996.65,182.73 1000.7,177.4 C1004.75,172.07 1010.08,165.65 1014.3,160 C1018.52,154.35 1022.28,148.52 1026,143.5 C1029.72,138.48 1033.05,134.58 1036.6,129.9 C1040.15,125.22 1043.58,120.25 1047.3,115.4 C1051.02,110.55 1054.52,105.52 1058.9,100.8 C1063.28,96.08 1068.42,91.57 1073.6,87.1 C1078.78,82.63 1084.43,77.73 1090,74 C1095.57,70.27 1100.33,66.95 1107,64.7 C1113.67,62.45 1126.17,61.2 1130,60.5" fill="none" stroke="#1e8a2a" stroke-width="2.6" stroke-dasharray="10,6" stroke-linejoin="round"/>
<path d="M898,246 C898.67,244.67 900.67,238.67 902,238 C903.33,237.33 904.67,242.33 906,242 C907.33,241.67 908.5,238 910,236 C911.5,234 912.67,231.33 915,230 C917.33,228.67 921.5,230.5 924,228 C926.5,225.5 925.67,218.83 930,215 C934.33,211.17 943.83,208.17 950,205 C956.17,201.83 961.17,197.33 967,196 C972.83,194.67 979.5,197.17 985,197 C990.5,196.83 995.83,196.17 1000,195 C1004.17,193.83 1006.97,191.8 1010,190 C1013.03,188.2 1015.22,187.75 1018.2,184.2 C1021.18,180.65 1024.35,174.18 1027.9,168.7 C1031.45,163.22 1036.27,156.15 1039.5,151.3 C1042.73,146.45 1044.38,143.98 1047.3,139.6 C1050.22,135.22 1053.45,129.85 1057,125 C1060.55,120.15 1065.05,115.33 1068.6,110.5 C1072.15,105.67 1074.68,101.02 1078.3,96 C1081.92,90.98 1086.08,85 1090.3,80.4 C1094.52,75.8 1099.7,71.18 1103.6,68.4 C1107.5,65.62 1108.47,65.02 1113.7,63.7 C1118.93,62.38 1131.45,61.03 1135,60.5" fill="none" stroke="#ec1c24" stroke-width="2.6" stroke-dasharray="10,6" stroke-linejoin="round"/>
<path d="M898.5,220 C899.25,219.33 901.58,215.33 903,216 C904.42,216.67 905.83,222.5 907,224 C908.17,225.5 908.92,227.67 910,225 C911.08,222.33 912.5,208.83 913.5,208 C914.5,207.17 914.58,218.67 916,220 C917.42,221.33 920,216.5 922,216 C924,215.5 926,215.17 928,217 C930,218.83 932,227.33 934,227 C936,226.67 938,218 940,215 C942,212 944,209.67 946,209 C948,208.33 950,211.67 952,211 C954,210.33 956,206.5 958,205 C960,203.5 962.33,201.5 964,202 C965.67,202.5 966.17,207.83 968,208 C969.83,208.17 972.67,204.67 975,203 C977.33,201.33 979.5,199.67 982,198 C984.5,196.33 986.88,195.3 990,193 C993.12,190.7 996,190.03 1000.7,184.2 C1005.4,178.37 1012.87,165.6 1018.2,158 C1023.53,150.4 1027.85,145.07 1032.7,138.6 C1037.55,132.13 1042.45,125.5 1047.3,119.2 C1052.15,112.9 1058.25,105 1061.8,100.8 C1065.35,96.6 1066.08,96.97 1068.6,94 C1071.12,91.03 1073.85,86.5 1076.9,83 C1079.95,79.5 1083.55,75.67 1086.9,73 C1090.25,70.33 1093.65,68.67 1097,67 C1100.35,65.33 1101.5,64.12 1107,63 C1112.5,61.88 1126.17,60.75 1130,60.3" fill="none" stroke="#111" stroke-width="2.6" stroke-linejoin="round"/>
<path d="M897,347 C897.5,345.33 898.83,337.83 900,337 C901.17,336.17 902.75,342.67 904,342 C905.25,341.33 906.17,335 907.5,333 C908.83,331 910.75,331.42 912,330 C913.25,328.58 913.67,326.25 915,324.5 C916.33,322.75 917.5,321.58 920,319.5 C922.5,317.42 927.08,314.08 930,312 C932.92,309.92 934.17,309.08 937.5,307 C940.83,304.92 946.67,302.83 950,299.5 C953.33,296.17 955,290.75 957.5,287 C960,283.25 962.92,280.75 965,277 C967.08,273.25 967.5,267.83 970,264.5 C972.5,261.17 976.67,259.42 980,257 C983.33,254.58 985.83,254.17 990,250 C994.17,245.83 1000,238.67 1005,232 C1010,225.33 1015.22,217.97 1020,210 C1024.78,202.03 1030.28,191.08 1033.7,184.2 C1037.12,177.32 1038.07,173.87 1040.5,168.7 C1042.93,163.53 1045.88,158.37 1048.3,153.2 C1050.72,148.03 1052.42,143.03 1055,137.7 C1057.58,132.37 1060.4,127.02 1063.8,121.2 C1067.2,115.38 1071.55,108.83 1075.4,102.8 C1079.25,96.77 1083.53,89.4 1086.9,85 C1090.27,80.6 1092.82,78.95 1095.6,76.4 C1098.38,73.85 1100.58,71.7 1103.6,69.7 C1106.62,67.7 1108.47,65.93 1113.7,64.4 C1118.93,62.87 1131.45,61.15 1135,60.5" fill="none" stroke="#1e8a2a" stroke-width="2.6" stroke-dasharray="5,4,2,4" stroke-linejoin="round"/>
<line x1="1120" y1="60" x2="1381" y2="60" stroke="#2f6a2f" stroke-width="3"/>
<rect x="820" y="27.2" width="562.5" height="343.8" fill="none" stroke="#000" stroke-width="3.3"/>
<line x1="819.5" y1="60" x2="811.5" y2="60" stroke="#000" stroke-width="3"/>
<line x1="819.5" y1="126.99" x2="811.5" y2="126.99" stroke="#000" stroke-width="3"/>
<line x1="819.5" y1="193.98" x2="811.5" y2="193.98" stroke="#000" stroke-width="3"/>
<line x1="819.5" y1="260.97" x2="811.5" y2="260.97" stroke="#000" stroke-width="3"/>
<line x1="819.5" y1="327.96" x2="811.5" y2="327.96" stroke="#000" stroke-width="3"/>
<line x1="819.5" y1="26.51" x2="814.5" y2="26.51" stroke="#000" stroke-width="3"/>
<line x1="819.5" y1="93.5" x2="814.5" y2="93.5" stroke="#000" stroke-width="3"/>
<line x1="819.5" y1="160.48" x2="814.5" y2="160.48" stroke="#000" stroke-width="3"/>
<line x1="819.5" y1="227.47" x2="814.5" y2="227.47" stroke="#000" stroke-width="3"/>
<line x1="819.5" y1="294.46" x2="814.5" y2="294.46" stroke="#000" stroke-width="3"/>
<line x1="819.5" y1="361.45" x2="814.5" y2="361.45" stroke="#000" stroke-width="3"/>
<line x1="893.4" y1="370.75" x2="893.4" y2="379" stroke="#000" stroke-width="3"/>
<line x1="1015.6" y1="370.75" x2="1015.6" y2="379" stroke="#000" stroke-width="3"/>
<line x1="1137.8" y1="370.75" x2="1137.8" y2="379" stroke="#000" stroke-width="3"/>
<line x1="1260" y1="370.75" x2="1260" y2="379" stroke="#000" stroke-width="3"/>
<line x1="1382.2" y1="370.75" x2="1382.2" y2="379" stroke="#000" stroke-width="3"/>
<line x1="832.3" y1="370.75" x2="832.3" y2="375.5" stroke="#000" stroke-width="3"/>
<line x1="954.5" y1="370.75" x2="954.5" y2="375.5" stroke="#000" stroke-width="3"/>
<line x1="1076.7" y1="370.75" x2="1076.7" y2="375.5" stroke="#000" stroke-width="3"/>
<line x1="1198.9" y1="370.75" x2="1198.9" y2="375.5" stroke="#000" stroke-width="3"/>
<line x1="1321.1" y1="370.75" x2="1321.1" y2="375.5" stroke="#000" stroke-width="3"/>
<text x="790.3" y="69" font-size="27.5" fill="#000" font-weight="normal" font-style="normal" textLength="18" lengthAdjust="spacingAndGlyphs" stroke="#000" stroke-width="0.7">0</text>
<text x="781" y="135.99" font-size="27.5" fill="#000" font-weight="normal" font-style="normal" textLength="30" lengthAdjust="spacingAndGlyphs" stroke="#000" stroke-width="0.7">-3</text>
<text x="781" y="202.98" font-size="27.5" fill="#000" font-weight="normal" font-style="normal" textLength="30" lengthAdjust="spacingAndGlyphs" stroke="#000" stroke-width="0.7">-6</text>
<text x="781" y="269.97" font-size="27.5" fill="#000" font-weight="normal" font-style="normal" textLength="30" lengthAdjust="spacingAndGlyphs" stroke="#000" stroke-width="0.7">-9</text>
<text x="765" y="336.96" font-size="27.5" fill="#000" font-weight="normal" font-style="normal" textLength="46" lengthAdjust="spacingAndGlyphs" stroke="#000" stroke-width="0.7">-12</text>
<text x="868.7" y="404" font-size="27.5" fill="#000" font-weight="normal" font-style="normal" textLength="50" lengthAdjust="spacingAndGlyphs" stroke="#000" stroke-width="0.7">-0.6</text>
<text x="990.9" y="404" font-size="27.5" fill="#000" font-weight="normal" font-style="normal" textLength="50" lengthAdjust="spacingAndGlyphs" stroke="#000" stroke-width="0.7">-0.4</text>
<text x="1113.1" y="404" font-size="27.5" fill="#000" font-weight="normal" font-style="normal" textLength="50" lengthAdjust="spacingAndGlyphs" stroke="#000" stroke-width="0.7">-0.2</text>
<text x="1240.5" y="404" font-size="27.5" fill="#000" font-weight="normal" font-style="normal" textLength="39" lengthAdjust="spacingAndGlyphs" stroke="#000" stroke-width="0.7">0.0</text>
<text x="1362.7" y="404" font-size="27.5" fill="#000" font-weight="normal" font-style="normal" textLength="39" lengthAdjust="spacingAndGlyphs" stroke="#000" stroke-width="0.7">0.2</text>
<text x="883.5" y="442.4" font-size="36" fill="#000" font-weight="normal" font-style="normal" textLength="436" lengthAdjust="spacingAndGlyphs" stroke="#000" stroke-width="0.6">Potential (V) vs Ag/AgCl</text>
<text transform="translate(748.5,305) scale(1.2588,1) rotate(-90) scale(0.9495,1)" font-size="36" fill="#000" font-weight="normal"><tspan>Current (mA)</tspan></text>
<line x1="826.5" y1="42" x2="866" y2="42" stroke="#111" stroke-width="2.6"/>
<text x="871.5" y="47.5" font-size="21.5" fill="#000" font-weight="normal" font-style="normal" textLength="79.5" lengthAdjust="spacingAndGlyphs" stroke="#000" stroke-width="0.8">DI water</text>
<path d="M963.75,42 L1003.75,42" fill="none" stroke="#ec1c24" stroke-width="2.6" stroke-dasharray="8,4,8,4,2.5,4" stroke-linejoin="round"/>
<text x="1008" y="47.5" font-size="21.5" fill="#e02840" font-weight="normal" font-style="normal" textLength="63" lengthAdjust="spacingAndGlyphs" stroke="#e02840" stroke-width="0.8">RHBW</text>
<path d="M1080,42 L1115,42" fill="none" stroke="#1e8a2a" stroke-width="2.6" stroke-dasharray="7,3,2,3,2,3" stroke-linejoin="round"/>
<text x="1122.5" y="47.5" font-size="21.5" fill="#288a34" font-weight="normal" font-style="normal" textLength="79.5" lengthAdjust="spacingAndGlyphs" stroke="#288a34" stroke-width="0.8">HRHBW</text>
<text transform="translate(823.5,105.5) scale(1.2426,1.0000)" font-size="17" fill="#333" font-weight="normal" stroke="#333" stroke-width="0.5"><tspan>[H</tspan><tspan font-size="10.2" dy="5">2</tspan><tspan dy="-5">SO</tspan><tspan font-size="10.2" dy="5">4</tspan><tspan dy="-5">]</tspan></text>
<text x="831" y="131" font-size="16.5" fill="#333" font-weight="normal" font-style="normal" textLength="55" lengthAdjust="spacingAndGlyphs" stroke="#333" stroke-width="0.5">0.05 M</text>
<text x="832.5" y="166" font-size="16.5" fill="#333" font-weight="normal" font-style="normal" textLength="45.5" lengthAdjust="spacingAndGlyphs" stroke="#333" stroke-width="0.5">0.1 M</text>
<text x="831" y="207" font-size="16.5" fill="#333" font-weight="normal" font-style="normal" textLength="55" lengthAdjust="spacingAndGlyphs" stroke="#333" stroke-width="0.5">0.25 M</text>
<text x="830" y="253" font-size="16.5" fill="#333" font-weight="normal" font-style="normal" textLength="45" lengthAdjust="spacingAndGlyphs" stroke="#333" stroke-width="0.5">0.5 M</text>
<rect x="1106" y="147" width="270" height="172" fill="#fff" stroke="none"/>
<path d="M1124.25,161 L1151,187 L1231.25,239 L1365,309" fill="none" stroke="#1e8a2a" stroke-width="1.6" stroke-dasharray="5,3,1.5,3,1.5,3" stroke-linejoin="round"/>
<path d="M1124.25,164 L1151,180 L1231.25,223.4 L1365,273.6" fill="none" stroke="#ec1c24" stroke-width="1.6" stroke-dasharray="6,4" stroke-linejoin="round"/>
<path d="M1124.25,157 L1151,175 L1231.25,213 L1365,253" fill="none" stroke="#222" stroke-width="1.6" stroke-linejoin="round"/>
<polygon points="1124.25,156.68 1120.25,163.88 1128.25,163.88" fill="#1e8a2a"/>
<polygon points="1151,182.68 1147,189.88 1155,189.88" fill="#1e8a2a"/>
<polygon points="1231.25,234.68 1227.25,241.88 1235.25,241.88" fill="#1e8a2a"/>
<polygon points="1365,304.68 1361,311.88 1369,311.88" fill="#1e8a2a"/>
<circle cx="1124.25" cy="164" r="3.6" fill="#ec1c24"/>
<circle cx="1151" cy="180" r="3.6" fill="#ec1c24"/>
<circle cx="1231.25" cy="223.4" r="3.6" fill="#ec1c24"/>
<circle cx="1365" cy="273.6" r="3.6" fill="#ec1c24"/>
<rect x="1120.75" y="153.5" width="7" height="7" fill="#111"/>
<rect x="1147.5" y="171.5" width="7" height="7" fill="#111"/>
<rect x="1227.75" y="209.5" width="7" height="7" fill="#111"/>
<rect x="1361.5" y="249.5" width="7" height="7" fill="#111"/>
<rect x="1106" y="147" width="270" height="172" fill="none" stroke="#333" stroke-width="2"/>
<line x1="1106" y1="163" x2="1102" y2="163" stroke="#333" stroke-width="1.6"/>
<text x="1072" y="168" font-size="14" fill="#333" font-weight="bold" font-style="normal" textLength="28" lengthAdjust="spacingAndGlyphs">-1.2</text>
<line x1="1106" y1="193" x2="1102" y2="193" stroke="#333" stroke-width="1.6"/>
<text x="1072" y="198" font-size="14" fill="#333" font-weight="bold" font-style="normal" textLength="28" lengthAdjust="spacingAndGlyphs">-2.4</text>
<line x1="1106" y1="223" x2="1102" y2="223" stroke="#333" stroke-width="1.6"/>
<text x="1072" y="228" font-size="14" fill="#333" font-weight="bold" font-style="normal" textLength="28" lengthAdjust="spacingAndGlyphs">-3.6</text>
<line x1="1106" y1="253" x2="1102" y2="253" stroke="#333" stroke-width="1.6"/>
<text x="1072" y="258" font-size="14" fill="#333" font-weight="bold" font-style="normal" textLength="28" lengthAdjust="spacingAndGlyphs">-4.8</text>
<line x1="1106" y1="283" x2="1102" y2="283" stroke="#333" stroke-width="1.6"/>
<text x="1072" y="288" font-size="14" fill="#333" font-weight="bold" font-style="normal" textLength="28" lengthAdjust="spacingAndGlyphs">-6.0</text>
<line x1="1106" y1="313" x2="1102" y2="313" stroke="#333" stroke-width="1.6"/>
<text x="1072" y="318" font-size="14" fill="#333" font-weight="bold" font-style="normal" textLength="28" lengthAdjust="spacingAndGlyphs">-7.2</text>
<line x1="1106" y1="178" x2="1103.5" y2="178" stroke="#333" stroke-width="1.4"/>
<line x1="1106" y1="208" x2="1103.5" y2="208" stroke="#333" stroke-width="1.4"/>
<line x1="1106" y1="238" x2="1103.5" y2="238" stroke="#333" stroke-width="1.4"/>
<line x1="1106" y1="268" x2="1103.5" y2="268" stroke="#333" stroke-width="1.4"/>
<line x1="1106" y1="298" x2="1103.5" y2="298" stroke="#333" stroke-width="1.4"/>
<line x1="1151" y1="319" x2="1151" y2="323" stroke="#333" stroke-width="1.6"/>
<text x="1142" y="337" font-size="14" fill="#333" font-weight="bold" font-style="normal" textLength="18" lengthAdjust="spacingAndGlyphs">0.1</text>
<line x1="1204.5" y1="319" x2="1204.5" y2="323" stroke="#333" stroke-width="1.6"/>
<text x="1195.5" y="337" font-size="14" fill="#333" font-weight="bold" font-style="normal" textLength="18" lengthAdjust="spacingAndGlyphs">0.2</text>
<line x1="1258" y1="319" x2="1258" y2="323" stroke="#333" stroke-width="1.6"/>
<text x="1249" y="337" font-size="14" fill="#333" font-weight="bold" font-style="normal" textLength="18" lengthAdjust="spacingAndGlyphs">0.3</text>
<line x1="1311.5" y1="319" x2="1311.5" y2="323" stroke="#333" stroke-width="1.6"/>
<text x="1302.5" y="337" font-size="14" fill="#333" font-weight="bold" font-style="normal" textLength="18" lengthAdjust="spacingAndGlyphs">0.4</text>
<line x1="1365" y1="319" x2="1365" y2="323" stroke="#333" stroke-width="1.6"/>
<text x="1356" y="337" font-size="14" fill="#333" font-weight="bold" font-style="normal" textLength="18" lengthAdjust="spacingAndGlyphs">0.5</text>
<line x1="1124.25" y1="319" x2="1124.25" y2="321.5" stroke="#333" stroke-width="1.4"/>
<line x1="1177.75" y1="319" x2="1177.75" y2="321.5" stroke="#333" stroke-width="1.4"/>
<line x1="1231.25" y1="319" x2="1231.25" y2="321.5" stroke="#333" stroke-width="1.4"/>
<line x1="1284.75" y1="319" x2="1284.75" y2="321.5" stroke="#333" stroke-width="1.4"/>
<line x1="1338.25" y1="319" x2="1338.25" y2="321.5" stroke="#333" stroke-width="1.4"/>
<text transform="translate(1184,363) scale(1.1217,1.0000)" font-size="22.5" fill="#111" font-weight="normal" stroke="#111" stroke-width="0.7"><tspan>[H</tspan><tspan font-size="13.5" dy="6">2</tspan><tspan dy="-6">SO</tspan><tspan font-size="13.5" dy="6">4</tspan><tspan dy="-6">] (M)</tspan></text>
<text transform="translate(1062,296.5) scale(1.3732,1) rotate(-90) scale(1.0045,1)" font-size="22" fill="#111" font-weight="normal"><tspan>Current (mA)</tspan></text>
<text x="1114.4" y="306" font-size="17" fill="#222" font-weight="bold" font-style="normal" textLength="71.6" lengthAdjust="spacingAndGlyphs">at -0.4 V</text>
<text x="1140" y="162" font-size="13" fill="#333" font-weight="bold" font-style="normal" textLength="45" lengthAdjust="spacingAndGlyphs">0.05M</text>
<text x="1115" y="206" font-size="13" fill="#333" font-weight="bold" font-style="normal" textLength="32" lengthAdjust="spacingAndGlyphs">0.1M</text>
<text x="1198" y="261" font-size="13" fill="#333" font-weight="bold" font-style="normal" textLength="40" lengthAdjust="spacingAndGlyphs">0.25M</text>
<text x="1340" y="240" font-size="13" fill="#333" font-weight="bold" font-style="normal" textLength="33" lengthAdjust="spacingAndGlyphs">0.5M</text>
<line x1="1224" y1="157" x2="1244" y2="157" stroke="#222" stroke-width="1.6"/>
<circle cx="1234" cy="157" r="2.5" fill="#111"/>
<text x="1250" y="161.5" font-size="15" fill="#333" font-weight="bold" font-style="normal" textLength="61" lengthAdjust="spacingAndGlyphs">DI water</text>
<path d="M1224,173 L1244,173" fill="none" stroke="#ec1c24" stroke-width="1.6" stroke-dasharray="4,3" stroke-linejoin="round"/>
<circle cx="1234" cy="173" r="2.5" fill="#ec1c24"/>
<text x="1252" y="177.5" font-size="15" fill="#ec1c24" font-weight="bold" font-style="normal" textLength="48" lengthAdjust="spacingAndGlyphs">RHBW</text>
<path d="M1224,190 L1244,190" fill="none" stroke="#1e8a2a" stroke-width="1.6" stroke-dasharray="3,2,1,2" stroke-linejoin="round"/>
<polygon points="1234,186.76 1231,192.16 1237,192.16" fill="#1e8a2a"/>
<text x="1251" y="194.5" font-size="15" fill="#1e8a2a" font-weight="bold" font-style="normal" textLength="63" lengthAdjust="spacingAndGlyphs">HRHBW</text>
<text x="708.3" y="44.2" font-size="48.1" fill="#000" font-weight="normal" font-style="normal" textLength="56.7" lengthAdjust="spacingAndGlyphs" stroke="#000" stroke-width="0.6">(b)</text>
<path d="M1581.25,350.5 L1694.5,278 L1807.75,213.75 L1921,183.75 L2034.5,129.25" fill="none" stroke="#1e8a2a" stroke-width="2.4" stroke-linejoin="round"/>
<path d="M1581.25,187 L1694.5,163 L1807.75,125 L1921,99.5 L2034.5,93.75" fill="none" stroke="#ee2233" stroke-width="2.4" stroke-linejoin="round"/>
<path d="M1581.25,63.75 L1694.5,65.75 L1807.75,60 L1921,62 L2034.5,59.25" fill="none" stroke="#222" stroke-width="2.4" stroke-linejoin="round"/>
<path d="M1581.25,60.75 L1694.5,57.5 L1807.75,63 L1921,66.25 L2034.5,68" fill="none" stroke="#f28a1e" stroke-width="2.4" stroke-linejoin="round"/>
<rect x="1575.25" y="57.75" width="12" height="12" fill="#000"/>
<rect x="1688.5" y="59.75" width="12" height="12" fill="#000"/>
<rect x="1801.75" y="54" width="12" height="12" fill="#000"/>
<rect x="1915" y="56" width="12" height="12" fill="#000"/>
<rect x="2028.5" y="53.25" width="12" height="12" fill="#000"/>
<circle cx="1581.25" cy="60.75" r="6.5" fill="#f07010"/>
<circle cx="1694.5" cy="57.5" r="6.5" fill="#f07010"/>
<circle cx="1807.75" cy="63" r="6.5" fill="#f07010"/>
<circle cx="1921" cy="66.25" r="6.5" fill="#f07010"/>
<circle cx="2034.5" cy="68" r="6.5" fill="#f07010"/>
<polygon points="1581.25,178.9 1573.75,192.4 1588.75,192.4" fill="#ee0000"/>
<polygon points="1694.5,154.9 1687,168.4 1702,168.4" fill="#ee0000"/>
<polygon points="1807.75,116.9 1800.25,130.4 1815.25,130.4" fill="#ee0000"/>
<polygon points="1921,91.4 1913.5,104.9 1928.5,104.9" fill="#ee0000"/>
<polygon points="2034.5,85.65 2027,99.15 2042,99.15" fill="#ee0000"/>
<polygon points="1581.25,358.6 1573.75,345.1 1588.75,345.1" fill="#0a6a0a"/>
<polygon points="1694.5,286.1 1687,272.6 1702,272.6" fill="#0a6a0a"/>
<polygon points="1807.75,221.85 1800.25,208.35 1815.25,208.35" fill="#0a6a0a"/>
<polygon points="1921,191.85 1913.5,178.35 1928.5,178.35" fill="#0a6a0a"/>
<polygon points="2034.5,137.35 2027,123.85 2042,123.85" fill="#0a6a0a"/>
<rect x="1524.7" y="28.6" width="566.8" height="345.1" fill="none" stroke="#000" stroke-width="3.3"/>
<line x1="1524.5" y1="28" x2="1516.5" y2="28" stroke="#000" stroke-width="3"/>
<text x="1458.7" y="36.6" font-size="28" fill="#000" font-weight="normal" font-style="normal" textLength="52.3" lengthAdjust="spacingAndGlyphs" stroke="#000" stroke-width="0.7">-4.2</text>
<line x1="1524.5" y1="95" x2="1516.5" y2="95" stroke="#000" stroke-width="3"/>
<text x="1458.7" y="103.6" font-size="28" fill="#000" font-weight="normal" font-style="normal" textLength="52.3" lengthAdjust="spacingAndGlyphs" stroke="#000" stroke-width="0.7">-4.8</text>
<line x1="1524.5" y1="162" x2="1516.5" y2="162" stroke="#000" stroke-width="3"/>
<text x="1458.7" y="170.6" font-size="28" fill="#000" font-weight="normal" font-style="normal" textLength="52.3" lengthAdjust="spacingAndGlyphs" stroke="#000" stroke-width="0.7">-5.4</text>
<line x1="1524.5" y1="229" x2="1516.5" y2="229" stroke="#000" stroke-width="3"/>
<text x="1458.7" y="237.6" font-size="28" fill="#000" font-weight="normal" font-style="normal" textLength="52.3" lengthAdjust="spacingAndGlyphs" stroke="#000" stroke-width="0.7">-6.0</text>
<line x1="1524.5" y1="296" x2="1516.5" y2="296" stroke="#000" stroke-width="3"/>
<text x="1458.7" y="304.6" font-size="28" fill="#000" font-weight="normal" font-style="normal" textLength="52.3" lengthAdjust="spacingAndGlyphs" stroke="#000" stroke-width="0.7">-6.6</text>
<line x1="1524.5" y1="363" x2="1516.5" y2="363" stroke="#000" stroke-width="3"/>
<text x="1458.7" y="371.6" font-size="28" fill="#000" font-weight="normal" font-style="normal" textLength="52.3" lengthAdjust="spacingAndGlyphs" stroke="#000" stroke-width="0.7">-7.2</text>
<line x1="1524.5" y1="61.5" x2="1519.5" y2="61.5" stroke="#000" stroke-width="3"/>
<line x1="1524.5" y1="128.5" x2="1519.5" y2="128.5" stroke="#000" stroke-width="3"/>
<line x1="1524.5" y1="195.5" x2="1519.5" y2="195.5" stroke="#000" stroke-width="3"/>
<line x1="1524.5" y1="262.5" x2="1519.5" y2="262.5" stroke="#000" stroke-width="3"/>
<line x1="1524.5" y1="329.5" x2="1519.5" y2="329.5" stroke="#000" stroke-width="3"/>
<line x1="1581.25" y1="373.5" x2="1581.25" y2="381" stroke="#000" stroke-width="3"/>
<text x="1573.5" y="406.5" font-size="28.5" fill="#000" font-weight="normal" font-style="normal" textLength="15.5" lengthAdjust="spacingAndGlyphs" stroke="#000" stroke-width="0.7">0</text>
<line x1="1694.5" y1="373.5" x2="1694.5" y2="381" stroke="#000" stroke-width="3"/>
<text x="1689" y="406.5" font-size="28.5" fill="#000" font-weight="normal" font-style="normal" textLength="11" lengthAdjust="spacingAndGlyphs" stroke="#000" stroke-width="0.7">1</text>
<line x1="1807.75" y1="373.5" x2="1807.75" y2="381" stroke="#000" stroke-width="3"/>
<text x="1800" y="406.5" font-size="28.5" fill="#000" font-weight="normal" font-style="normal" textLength="15.5" lengthAdjust="spacingAndGlyphs" stroke="#000" stroke-width="0.7">3</text>
<line x1="1921" y1="373.5" x2="1921" y2="381" stroke="#000" stroke-width="3"/>
<text x="1913.25" y="406.5" font-size="28.5" fill="#000" font-weight="normal" font-style="normal" textLength="15.5" lengthAdjust="spacingAndGlyphs" stroke="#000" stroke-width="0.7">5</text>
<line x1="2034.5" y1="373.5" x2="2034.5" y2="381" stroke="#000" stroke-width="3"/>
<text x="2026.75" y="406.5" font-size="28.5" fill="#000" font-weight="normal" font-style="normal" textLength="15.5" lengthAdjust="spacingAndGlyphs" stroke="#000" stroke-width="0.7">7</text>
<text x="1709" y="442" font-size="37" fill="#000" font-weight="normal" font-style="normal" textLength="200" lengthAdjust="spacingAndGlyphs" stroke="#000" stroke-width="0.7">Time (day)</text>
<text transform="translate(1435,293.4) scale(1.2333,1) rotate(-90) scale(1.0006,1)" font-size="36.5" fill="#000" font-weight="normal"><tspan>Current (mA)</tspan></text>
<line x1="1796.5" y1="277" x2="1811.5" y2="277" stroke="#222" stroke-width="2.4"/>
<line x1="1828.3" y1="277" x2="1843.3" y2="277" stroke="#222" stroke-width="2.4"/>
<rect x="1816.5" y="273.5" width="7" height="7" fill="#000"/>
<text x="1854.7" y="282.1" font-size="21.5" fill="#000" font-weight="normal" font-style="normal" textLength="94.3" lengthAdjust="spacingAndGlyphs" stroke="#000" stroke-width="0.9">DI water</text>
<line x1="1796.5" y1="298.75" x2="1811.5" y2="298.75" stroke="#f28a1e" stroke-width="2.4"/>
<line x1="1828.3" y1="298.75" x2="1843.3" y2="298.75" stroke="#f28a1e" stroke-width="2.4"/>
<circle cx="1820" cy="298.75" r="3.8" fill="#f07010"/>
<text x="1857.3" y="304.2" font-size="21.5" fill="#f0a060" font-weight="normal" font-style="normal" textLength="61.7" lengthAdjust="spacingAndGlyphs" stroke="#f0a060" stroke-width="0.9">Blank</text>
<line x1="1796.5" y1="321.25" x2="1811.5" y2="321.25" stroke="#ee2233" stroke-width="2.4"/>
<line x1="1828.3" y1="321.25" x2="1843.3" y2="321.25" stroke="#ee2233" stroke-width="2.4"/>
<polygon points="1820,316.39 1815.5,324.49 1824.5,324.49" fill="#ee0000"/>
<text x="1859" y="327.3" font-size="21.5" fill="#d8203a" font-weight="normal" font-style="normal" textLength="78.5" lengthAdjust="spacingAndGlyphs" stroke="#d8203a" stroke-width="0.9">RHBW</text>
<line x1="1796.5" y1="343" x2="1811.5" y2="343" stroke="#1e8a2a" stroke-width="2.4"/>
<line x1="1828.3" y1="343" x2="1843.3" y2="343" stroke="#1e8a2a" stroke-width="2.4"/>
<polygon points="1820,347.86 1815.5,339.76 1824.5,339.76" fill="#0a6a0a"/>
<text x="1860" y="349.4" font-size="21.5" fill="#1a7a2a" font-weight="normal" font-style="normal" textLength="97.5" lengthAdjust="spacingAndGlyphs" stroke="#1a7a2a" stroke-width="0.9">HRHBW</text>
<text x="1394" y="39.6" font-size="48.6" fill="#000" font-weight="normal" font-style="normal" textLength="54.1" lengthAdjust="spacingAndGlyphs" stroke="#000" stroke-width="0.6">(c)</text>
<path d="M188,733 C189.79,723.75 193.02,696.96 198.75,677.5 C204.48,658.04 214.5,632.79 222.38,616.25 C230.26,599.71 238.13,588.88 246.01,578.25 C253.89,567.62 261.76,559.08 269.64,552.5 C277.52,545.92 285.39,542.33 293.27,538.75 C301.15,535.17 309.02,533.21 316.9,531 C324.78,528.79 332.65,527.25 340.53,525.5 C348.41,523.75 356.28,521.78 364.16,520.5 C372.04,519.22 379.91,518.47 387.79,517.8 C395.67,517.13 403.54,516.97 411.42,516.5 C419.3,516.03 427.17,515.38 435.05,515 C442.93,514.62 450.8,514.43 458.68,514.2 C466.56,513.97 474.43,513.77 482.31,513.6 C490.19,513.43 498.06,513.3 505.94,513.2 C513.82,513.1 521.69,513.12 529.57,513 C537.45,512.88 545.32,512.58 553.2,512.5 C561.08,512.42 568.95,512.58 576.83,512.5 C584.71,512.42 592.58,512.08 600.46,512 C608.34,511.92 616.21,512.12 624.09,512 C631.97,511.88 639.84,511.58 647.72,511.25 C655.6,510.92 667.41,510.21 671.35,510" fill="none" stroke="#111" stroke-width="2.4" stroke-linejoin="round"/>
<path d="M188,813.5 C189.79,809.67 193.02,800.58 198.75,790.5 C204.48,780.42 214.5,765.25 222.38,753 C230.26,740.75 238.13,728.33 246.01,717 C253.89,705.67 261.76,695.42 269.64,685 C277.52,674.58 285.39,664.92 293.27,654.5 C301.15,644.08 309.02,633.12 316.9,622.5 C324.78,611.88 332.65,600.29 340.53,590.75 C348.41,581.21 356.28,572.5 364.16,565.25 C372.04,558 379.91,552.17 387.79,547.25 C395.67,542.33 403.54,539.04 411.42,535.75 C419.3,532.46 427.17,529.86 435.05,527.5 C442.93,525.14 450.8,523.06 458.68,521.6 C466.56,520.14 474.43,519.73 482.31,518.75 C490.19,517.77 498.06,516.38 505.94,515.75 C513.82,515.12 521.69,515.33 529.57,515 C537.45,514.67 545.32,514.08 553.2,513.75 C561.08,513.42 568.95,513.21 576.83,513 C584.71,512.79 592.58,512.67 600.46,512.5 C608.34,512.33 616.21,512.21 624.09,512 C631.97,511.79 639.84,511.71 647.72,511.25 C655.6,510.79 667.41,509.58 671.35,509.25" fill="none" stroke="#ee1111" stroke-width="2.4" stroke-linejoin="round"/>
<rect x="193.25" y="672" width="11" height="11" fill="#000"/>
<rect x="216.88" y="610.75" width="11" height="11" fill="#000"/>
<rect x="240.51" y="572.75" width="11" height="11" fill="#000"/>
<rect x="264.14" y="547" width="11" height="11" fill="#000"/>
<rect x="287.77" y="533.25" width="11" height="11" fill="#000"/>
<rect x="311.4" y="525.5" width="11" height="11" fill="#000"/>
<rect x="335.03" y="520" width="11" height="11" fill="#000"/>
<rect x="358.66" y="515" width="11" height="11" fill="#000"/>
<rect x="382.29" y="512.3" width="11" height="11" fill="#000"/>
<rect x="405.92" y="511" width="11" height="11" fill="#000"/>
<rect x="429.55" y="509.5" width="11" height="11" fill="#000"/>
<rect x="453.18" y="508.7" width="11" height="11" fill="#000"/>
<rect x="476.81" y="508.1" width="11" height="11" fill="#000"/>
<rect x="500.44" y="507.7" width="11" height="11" fill="#000"/>
<rect x="524.07" y="507.5" width="11" height="11" fill="#000"/>
<rect x="547.7" y="507" width="11" height="11" fill="#000"/>
<rect x="571.33" y="507" width="11" height="11" fill="#000"/>
<rect x="594.96" y="506.5" width="11" height="11" fill="#000"/>
<rect x="618.59" y="506.5" width="11" height="11" fill="#000"/>
<rect x="642.22" y="505.75" width="11" height="11" fill="#000"/>
<rect x="665.85" y="504.5" width="11" height="11" fill="#000"/>
<circle cx="198.75" cy="790.5" r="6.2" fill="#ee0a0a"/>
<circle cx="222.38" cy="753" r="6.2" fill="#ee0a0a"/>
<circle cx="246.01" cy="717" r="6.2" fill="#ee0a0a"/>
<circle cx="269.64" cy="685" r="6.2" fill="#ee0a0a"/>
<circle cx="293.27" cy="654.5" r="6.2" fill="#ee0a0a"/>
<circle cx="316.9" cy="622.5" r="6.2" fill="#ee0a0a"/>
<circle cx="340.53" cy="590.75" r="6.2" fill="#ee0a0a"/>
<circle cx="364.16" cy="565.25" r="6.2" fill="#ee0a0a"/>
<circle cx="387.79" cy="547.25" r="6.2" fill="#ee0a0a"/>
<circle cx="411.42" cy="535.75" r="6.2" fill="#ee0a0a"/>
<circle cx="435.05" cy="527.5" r="6.2" fill="#ee0a0a"/>
<circle cx="458.68" cy="521.6" r="6.2" fill="#ee0a0a"/>
<circle cx="482.31" cy="518.75" r="6.2" fill="#ee0a0a"/>
<circle cx="505.94" cy="515.75" r="6.2" fill="#ee0a0a"/>
<circle cx="529.57" cy="515" r="6.2" fill="#ee0a0a"/>
<circle cx="553.2" cy="513.75" r="6.2" fill="#ee0a0a"/>
<circle cx="576.83" cy="513" r="6.2" fill="#ee0a0a"/>
<circle cx="600.46" cy="512.5" r="6.2" fill="#ee0a0a"/>
<circle cx="624.09" cy="512" r="6.2" fill="#ee0a0a"/>
<circle cx="647.72" cy="511.25" r="6.2" fill="#ee0a0a"/>
<circle cx="671.35" cy="509.25" r="6.2" fill="#ee0a0a"/>
<rect x="128.3" y="491" width="544.2" height="352" fill="none" stroke="#000" stroke-width="3.3"/>
<line x1="128.75" y1="509.5" x2="120.75" y2="509.5" stroke="#000" stroke-width="3"/>
<line x1="128.75" y1="592.9" x2="120.75" y2="592.9" stroke="#000" stroke-width="3"/>
<line x1="128.75" y1="676.31" x2="120.75" y2="676.31" stroke="#000" stroke-width="3"/>
<line x1="128.75" y1="759.72" x2="120.75" y2="759.72" stroke="#000" stroke-width="3"/>
<line x1="128.75" y1="843.12" x2="120.75" y2="843.12" stroke="#000" stroke-width="3"/>
<line x1="128.75" y1="551.2" x2="123.75" y2="551.2" stroke="#000" stroke-width="3"/>
<line x1="128.75" y1="634.61" x2="123.75" y2="634.61" stroke="#000" stroke-width="3"/>
<line x1="128.75" y1="718.01" x2="123.75" y2="718.01" stroke="#000" stroke-width="3"/>
<line x1="128.75" y1="801.42" x2="123.75" y2="801.42" stroke="#000" stroke-width="3"/>
<text x="99.5" y="517.8" font-size="25.5" fill="#000" font-weight="normal" font-style="normal" textLength="14" lengthAdjust="spacingAndGlyphs" stroke="#000" stroke-width="0.5">0</text>
<text x="73.3" y="601.2" font-size="25.5" fill="#000" font-weight="normal" font-style="normal" textLength="40.2" lengthAdjust="spacingAndGlyphs" stroke="#000" stroke-width="0.5">-35</text>
<text x="73.3" y="684.61" font-size="25.5" fill="#000" font-weight="normal" font-style="normal" textLength="40.2" lengthAdjust="spacingAndGlyphs" stroke="#000" stroke-width="0.5">-70</text>
<text x="57.8" y="768.01" font-size="25.5" fill="#000" font-weight="normal" font-style="normal" textLength="55.7" lengthAdjust="spacingAndGlyphs" stroke="#000" stroke-width="0.5">-105</text>
<text x="57.8" y="851.42" font-size="25.5" fill="#000" font-weight="normal" font-style="normal" textLength="55.7" lengthAdjust="spacingAndGlyphs" stroke="#000" stroke-width="0.5">-140</text>
<line x1="187.65" y1="843" x2="187.65" y2="851" stroke="#000" stroke-width="3"/>
<line x1="308.85" y1="843" x2="308.85" y2="851" stroke="#000" stroke-width="3"/>
<line x1="430.05" y1="843" x2="430.05" y2="851" stroke="#000" stroke-width="3"/>
<line x1="551.25" y1="843" x2="551.25" y2="851" stroke="#000" stroke-width="3"/>
<line x1="672.45" y1="843" x2="672.45" y2="851" stroke="#000" stroke-width="3"/>
<line x1="248.25" y1="843" x2="248.25" y2="848" stroke="#000" stroke-width="3"/>
<line x1="369.45" y1="843" x2="369.45" y2="848" stroke="#000" stroke-width="3"/>
<line x1="490.65" y1="843" x2="490.65" y2="848" stroke="#000" stroke-width="3"/>
<line x1="611.85" y1="843" x2="611.85" y2="848" stroke="#000" stroke-width="3"/>
<text x="163.4" y="875.8" font-size="28.5" fill="#000" font-weight="normal" font-style="normal" textLength="47.5" lengthAdjust="spacingAndGlyphs" stroke="#000" stroke-width="0.7">-0.6</text>
<text x="284.6" y="875.8" font-size="28.5" fill="#000" font-weight="normal" font-style="normal" textLength="47.5" lengthAdjust="spacingAndGlyphs" stroke="#000" stroke-width="0.7">-0.4</text>
<text x="405.8" y="875.8" font-size="28.5" fill="#000" font-weight="normal" font-style="normal" textLength="47.5" lengthAdjust="spacingAndGlyphs" stroke="#000" stroke-width="0.7">-0.2</text>
<text x="532.25" y="875.8" font-size="28.5" fill="#000" font-weight="normal" font-style="normal" textLength="38" lengthAdjust="spacingAndGlyphs" stroke="#000" stroke-width="0.7">0.0</text>
<text x="653.45" y="875.8" font-size="28.5" fill="#000" font-weight="normal" font-style="normal" textLength="38" lengthAdjust="spacingAndGlyphs" stroke="#000" stroke-width="0.7">0.2</text>
<text transform="translate(215.5,913.3) scale(1.1125,1.0000)" font-size="33.5" fill="#000" font-weight="normal" stroke="#000" stroke-width="0.7"><tspan>Potential (V </tspan><tspan font-style="italic">vs.</tspan><tspan> Ag/AgCl)</tspan></text>
<text transform="translate(39.8,826) scale(1.2621,1) rotate(-90) scale(1.0724,1)" font-size="31" fill="#000" font-weight="normal"><tspan>Current density (μA/cm</tspan><tspan font-size="18.6" dy="-13">2</tspan><tspan dy="13">)</tspan></text>
<line x1="507" y1="562.5" x2="551.5" y2="562.5" stroke="#111" stroke-width="2.6"/>
<circle cx="530" cy="562.5" r="4.2" fill="#000"/>
<text x="558.5" y="568.2" font-size="20" fill="#111" font-weight="normal" font-style="normal" textLength="86" lengthAdjust="spacingAndGlyphs" stroke="#111" stroke-width="0.8">DI water</text>
<line x1="507" y1="589" x2="551.5" y2="589" stroke="#ee1111" stroke-width="2.6"/>
<circle cx="530" cy="589" r="4.5" fill="#ee0a0a"/>
<text x="558.5" y="594.5" font-size="20" fill="#e8142a" font-weight="normal" font-style="normal" textLength="89.5" lengthAdjust="spacingAndGlyphs" stroke="#e8142a" stroke-width="0.8">HRHBW</text>
<text x="0.9" y="477.2" font-size="48.5" fill="#000" font-weight="normal" font-style="normal" textLength="56.7" lengthAdjust="spacingAndGlyphs" stroke="#000" stroke-width="0.6">(d)</text>
<path d="M894.6,817.5 L1001.3,703.25 L1108,545.5 L1214.5,581.25 L1321.5,700" fill="none" stroke="#ee1111" stroke-width="2.6" stroke-linejoin="round"/>
<rect x="888.35" y="811.25" width="12.5" height="12.5" fill="#0a0aee"/>
<rect x="995.05" y="697" width="12.5" height="12.5" fill="#0a0aee"/>
<rect x="1101.75" y="539.25" width="12.5" height="12.5" fill="#0a0aee"/>
<rect x="1208.25" y="575" width="12.5" height="12.5" fill="#0a0aee"/>
<rect x="1315.25" y="693.75" width="12.5" height="12.5" fill="#0a0aee"/>
<rect x="842" y="492.5" width="533" height="350.5" fill="none" stroke="#000" stroke-width="3.3"/>
<line x1="842" y1="842.75" x2="834" y2="842.75" stroke="#000" stroke-width="3"/>
<text x="813" y="850.95" font-size="29" fill="#000" font-weight="normal" font-style="normal" textLength="16.5" lengthAdjust="spacingAndGlyphs" stroke="#000" stroke-width="0.7">0</text>
<line x1="842" y1="772.75" x2="834" y2="772.75" stroke="#000" stroke-width="3"/>
<text x="782.4" y="780.95" font-size="29" fill="#000" font-weight="normal" font-style="normal" textLength="47.1" lengthAdjust="spacingAndGlyphs" stroke="#000" stroke-width="0.7">100</text>
<line x1="842" y1="702.75" x2="834" y2="702.75" stroke="#000" stroke-width="3"/>
<text x="782.4" y="710.95" font-size="29" fill="#000" font-weight="normal" font-style="normal" textLength="47.1" lengthAdjust="spacingAndGlyphs" stroke="#000" stroke-width="0.7">200</text>
<line x1="842" y1="632.75" x2="834" y2="632.75" stroke="#000" stroke-width="3"/>
<text x="782.4" y="640.95" font-size="29" fill="#000" font-weight="normal" font-style="normal" textLength="47.1" lengthAdjust="spacingAndGlyphs" stroke="#000" stroke-width="0.7">300</text>
<line x1="842" y1="562.75" x2="834" y2="562.75" stroke="#000" stroke-width="3"/>
<text x="782.4" y="570.95" font-size="29" fill="#000" font-weight="normal" font-style="normal" textLength="47.1" lengthAdjust="spacingAndGlyphs" stroke="#000" stroke-width="0.7">400</text>
<line x1="842" y1="492.75" x2="834" y2="492.75" stroke="#000" stroke-width="3"/>
<text x="782.4" y="500.95" font-size="29" fill="#000" font-weight="normal" font-style="normal" textLength="47.1" lengthAdjust="spacingAndGlyphs" stroke="#000" stroke-width="0.7">500</text>
<line x1="842" y1="807.75" x2="837" y2="807.75" stroke="#000" stroke-width="3"/>
<line x1="842" y1="737.75" x2="837" y2="737.75" stroke="#000" stroke-width="3"/>
<line x1="842" y1="667.75" x2="837" y2="667.75" stroke="#000" stroke-width="3"/>
<line x1="842" y1="597.75" x2="837" y2="597.75" stroke="#000" stroke-width="3"/>
<line x1="842" y1="527.75" x2="837" y2="527.75" stroke="#000" stroke-width="3"/>
<line x1="894.6" y1="843" x2="894.6" y2="851" stroke="#000" stroke-width="3"/>
<text x="869.05" y="876.5" font-size="28.5" fill="#000" font-weight="normal" font-style="normal" textLength="50.5" lengthAdjust="spacingAndGlyphs" stroke="#000" stroke-width="0.7">-0.6</text>
<line x1="1001.3" y1="843" x2="1001.3" y2="851" stroke="#000" stroke-width="3"/>
<text x="975.75" y="876.5" font-size="28.5" fill="#000" font-weight="normal" font-style="normal" textLength="50.5" lengthAdjust="spacingAndGlyphs" stroke="#000" stroke-width="0.7">-0.5</text>
<line x1="1108" y1="843" x2="1108" y2="851" stroke="#000" stroke-width="3"/>
<text x="1082.45" y="876.5" font-size="28.5" fill="#000" font-weight="normal" font-style="normal" textLength="50.5" lengthAdjust="spacingAndGlyphs" stroke="#000" stroke-width="0.7">-0.4</text>
<line x1="1214.7" y1="843" x2="1214.7" y2="851" stroke="#000" stroke-width="3"/>
<text x="1189.15" y="876.5" font-size="28.5" fill="#000" font-weight="normal" font-style="normal" textLength="50.5" lengthAdjust="spacingAndGlyphs" stroke="#000" stroke-width="0.7">-0.3</text>
<line x1="1321.4" y1="843" x2="1321.4" y2="851" stroke="#000" stroke-width="3"/>
<text x="1295.85" y="876.5" font-size="28.5" fill="#000" font-weight="normal" font-style="normal" textLength="50.5" lengthAdjust="spacingAndGlyphs" stroke="#000" stroke-width="0.7">-0.2</text>
<line x1="947.95" y1="843" x2="947.95" y2="848" stroke="#000" stroke-width="3"/>
<line x1="1054.65" y1="843" x2="1054.65" y2="848" stroke="#000" stroke-width="3"/>
<line x1="1161.35" y1="843" x2="1161.35" y2="848" stroke="#000" stroke-width="3"/>
<line x1="1268.05" y1="843" x2="1268.05" y2="848" stroke="#000" stroke-width="3"/>
<line x1="1374.75" y1="843" x2="1374.75" y2="848" stroke="#000" stroke-width="3"/>
<text transform="translate(914,912.8) scale(1.0817,1.0000)" font-size="34.5" fill="#000" font-weight="normal" stroke="#000" stroke-width="0.7"><tspan>Potential (V </tspan><tspan font-style="italic">vs.</tspan><tspan> Ag/AgCl)</tspan></text>
<text transform="translate(766.8,826) scale(1.3644,1) rotate(-90) scale(1.0918,1)" font-size="31" fill="#000" font-weight="normal"><tspan>Increased efficiency (%)</tspan></text>
<text x="722.6" y="486.4" font-size="47.8" fill="#000" font-weight="normal" font-style="normal" textLength="53.7" lengthAdjust="spacingAndGlyphs" stroke="#000" stroke-width="0.6">(e)</text>
<path d="M1587.5,777.5 C1592.29,768.96 1605.09,744 1616.25,726.25 C1627.41,708.5 1641.72,686.62 1654.45,671 C1667.18,655.38 1679.92,643.92 1692.65,632.5 C1705.38,621.08 1718.12,611.25 1730.85,602.5 C1743.58,593.75 1756.32,586.88 1769.05,580 C1781.78,573.12 1794.52,566.75 1807.25,561.25 C1819.98,555.75 1832.72,551.38 1845.45,547 C1858.18,542.62 1870.92,538.46 1883.65,535 C1896.38,531.54 1909.12,528.75 1921.85,526.25 C1934.58,523.75 1947.32,521.88 1960.05,520 C1972.78,518.12 1985.52,516.46 1998.25,515 C2010.98,513.54 2023.72,512.58 2036.45,511.25 C2049.18,509.92 2068.28,507.71 2074.65,507" fill="none" stroke="#111" stroke-width="2.4" stroke-linejoin="round"/>
<path d="M1587.5,792.5 C1592.29,783.67 1605.09,757.42 1616.25,739.5 C1627.41,721.58 1641.72,701.39 1654.45,685 C1667.18,668.61 1679.92,653.74 1692.65,641.16 C1705.38,628.58 1718.12,618.95 1730.85,609.51 C1743.58,600.08 1756.32,592.03 1769.05,584.54 C1781.78,577.04 1794.52,570.34 1807.25,564.55 C1819.98,558.76 1832.72,554.32 1845.45,549.8 C1858.18,545.29 1870.92,541.03 1883.65,537.48 C1896.38,533.92 1909.12,531.12 1921.85,528.48 C1934.58,525.84 1947.32,523.73 1960.05,521.65 C1972.78,519.57 1985.52,517.63 1998.25,515.99 C2010.98,514.35 2023.72,513.23 2036.45,511.83 C2049.18,510.43 2068.28,508.29 2074.65,507.58" fill="none" stroke="#1a8a1a" stroke-width="2.4" stroke-linejoin="round"/>
<path d="M1587.5,810 C1592.29,800.5 1605.09,772.38 1616.25,753 C1627.41,733.62 1641.72,711.21 1654.45,693.75 C1667.18,676.29 1679.92,661.33 1692.65,648.25 C1705.38,635.17 1718.12,625.25 1730.85,615.25 C1743.58,605.25 1756.32,596.25 1769.05,588.25 C1781.78,580.25 1794.52,573.27 1807.25,567.25 C1819.98,561.23 1832.72,556.73 1845.45,552.1 C1858.18,547.48 1870.92,543.13 1883.65,539.5 C1896.38,535.87 1909.12,533.05 1921.85,530.3 C1934.58,527.55 1947.32,525.25 1960.05,523 C1972.78,520.75 1985.52,518.58 1998.25,516.8 C2010.98,515.02 2023.72,513.76 2036.45,512.3 C2049.18,510.84 2068.28,508.76 2074.65,508.05" fill="none" stroke="#ee1111" stroke-width="2.4" stroke-linejoin="round"/>
<path d="M1587.5,820.5 C1592.29,811.88 1605.09,787.38 1616.25,768.75 C1627.41,750.12 1641.72,727.08 1654.45,708.75 C1667.18,690.42 1679.92,672.92 1692.65,658.75 C1705.38,644.58 1718.12,634.58 1730.85,623.75 C1743.58,612.92 1756.32,602.5 1769.05,593.75 C1781.78,585 1794.52,577.62 1807.25,571.25 C1819.98,564.88 1832.72,560.29 1845.45,555.5 C1858.18,550.71 1870.92,546.25 1883.65,542.5 C1896.38,538.75 1909.12,535.92 1921.85,533 C1934.58,530.08 1947.32,527.5 1960.05,525 C1972.78,522.5 1985.52,520 1998.25,518 C2010.98,516 2023.72,514.54 2036.45,513 C2049.18,511.46 2068.28,509.46 2074.65,508.75" fill="none" stroke="#1a1aee" stroke-width="2.4" stroke-linejoin="round"/>
<rect x="1610.5" y="720.5" width="11.5" height="11.5" fill="#000"/>
<rect x="1648.7" y="665.25" width="11.5" height="11.5" fill="#000"/>
<rect x="1686.9" y="626.75" width="11.5" height="11.5" fill="#000"/>
<rect x="1725.1" y="596.75" width="11.5" height="11.5" fill="#000"/>
<rect x="1763.3" y="574.25" width="11.5" height="11.5" fill="#000"/>
<rect x="1801.5" y="555.5" width="11.5" height="11.5" fill="#000"/>
<rect x="1839.7" y="541.25" width="11.5" height="11.5" fill="#000"/>
<rect x="1877.9" y="529.25" width="11.5" height="11.5" fill="#000"/>
<rect x="1916.1" y="520.5" width="11.5" height="11.5" fill="#000"/>
<rect x="1954.3" y="514.25" width="11.5" height="11.5" fill="#000"/>
<rect x="1992.5" y="509.25" width="11.5" height="11.5" fill="#000"/>
<rect x="2030.7" y="505.5" width="11.5" height="11.5" fill="#000"/>
<rect x="2068.9" y="501.25" width="11.5" height="11.5" fill="#000"/>
<polygon points="1616.25,732.21 1609.5,744.36 1623,744.36" fill="#0a6a0a"/>
<polygon points="1654.45,677.71 1647.7,689.86 1661.2,689.86" fill="#0a6a0a"/>
<polygon points="1692.65,633.87 1685.9,646.02 1699.4,646.02" fill="#0a6a0a"/>
<polygon points="1730.85,602.22 1724.1,614.37 1737.6,614.37" fill="#0a6a0a"/>
<polygon points="1769.05,577.25 1762.3,589.4 1775.8,589.4" fill="#0a6a0a"/>
<polygon points="1807.25,557.26 1800.5,569.41 1814,569.41" fill="#0a6a0a"/>
<polygon points="1845.45,542.51 1838.7,554.66 1852.2,554.66" fill="#0a6a0a"/>
<polygon points="1883.65,530.19 1876.9,542.34 1890.4,542.34" fill="#0a6a0a"/>
<polygon points="1921.85,521.19 1915.1,533.34 1928.6,533.34" fill="#0a6a0a"/>
<polygon points="1960.05,514.36 1953.3,526.51 1966.8,526.51" fill="#0a6a0a"/>
<polygon points="1998.25,508.7 1991.5,520.85 2005,520.85" fill="#0a6a0a"/>
<polygon points="2036.45,504.54 2029.7,516.69 2043.2,516.69" fill="#0a6a0a"/>
<polygon points="2074.65,500.29 2067.9,512.44 2081.4,512.44" fill="#0a6a0a"/>
<circle cx="1616.25" cy="753" r="6.2" fill="#ee1111"/>
<circle cx="1654.45" cy="693.75" r="6.2" fill="#ee1111"/>
<circle cx="1692.65" cy="648.25" r="6.2" fill="#ee1111"/>
<circle cx="1730.85" cy="615.25" r="6.2" fill="#ee1111"/>
<circle cx="1769.05" cy="588.25" r="6.2" fill="#ee1111"/>
<circle cx="1807.25" cy="567.25" r="6.2" fill="#ee1111"/>
<circle cx="1845.45" cy="552.1" r="6.2" fill="#ee1111"/>
<circle cx="1883.65" cy="539.5" r="6.2" fill="#ee1111"/>
<circle cx="1921.85" cy="530.3" r="6.2" fill="#ee1111"/>
<circle cx="1960.05" cy="523" r="6.2" fill="#ee1111"/>
<circle cx="1998.25" cy="516.8" r="6.2" fill="#ee1111"/>
<circle cx="2036.45" cy="512.3" r="6.2" fill="#ee1111"/>
<circle cx="2074.65" cy="508.05" r="6.2" fill="#ee1111"/>
<polygon points="1616.25,776.58 1609,763.53 1623.5,763.53" fill="#0a0aee"/>
<polygon points="1654.45,716.58 1647.2,703.53 1661.7,703.53" fill="#0a0aee"/>
<polygon points="1692.65,666.58 1685.4,653.53 1699.9,653.53" fill="#0a0aee"/>
<polygon points="1730.85,631.58 1723.6,618.53 1738.1,618.53" fill="#0a0aee"/>
<polygon points="1769.05,601.58 1761.8,588.53 1776.3,588.53" fill="#0a0aee"/>
<polygon points="1807.25,579.08 1800,566.03 1814.5,566.03" fill="#0a0aee"/>
<polygon points="1845.45,563.33 1838.2,550.28 1852.7,550.28" fill="#0a0aee"/>
<polygon points="1883.65,550.33 1876.4,537.28 1890.9,537.28" fill="#0a0aee"/>
<polygon points="1921.85,540.83 1914.6,527.78 1929.1,527.78" fill="#0a0aee"/>
<polygon points="1960.05,532.83 1952.8,519.78 1967.3,519.78" fill="#0a0aee"/>
<polygon points="1998.25,525.83 1991,512.78 2005.5,512.78" fill="#0a0aee"/>
<polygon points="2036.45,520.83 2029.2,507.78 2043.7,507.78" fill="#0a0aee"/>
<polygon points="2074.65,516.58 2067.4,503.53 2081.9,503.53" fill="#0a0aee"/>
<rect x="1540" y="492.5" width="545.5" height="353" fill="none" stroke="#000" stroke-width="3.3"/>
<line x1="1540" y1="508.3" x2="1532" y2="508.3" stroke="#000" stroke-width="3"/>
<text x="1511" y="516.3" font-size="27.5" fill="#000" font-weight="normal" font-style="normal" textLength="13.3" lengthAdjust="spacingAndGlyphs" stroke="#000" stroke-width="0.7">0</text>
<line x1="1540" y1="587.6" x2="1532" y2="587.6" stroke="#000" stroke-width="3"/>
<text x="1500.5" y="595.6" font-size="27.5" fill="#000" font-weight="normal" font-style="normal" textLength="21" lengthAdjust="spacingAndGlyphs" stroke="#000" stroke-width="0.7">-1</text>
<line x1="1540" y1="666.9" x2="1532" y2="666.9" stroke="#000" stroke-width="3"/>
<text x="1500.5" y="674.9" font-size="27.5" fill="#000" font-weight="normal" font-style="normal" textLength="21" lengthAdjust="spacingAndGlyphs" stroke="#000" stroke-width="0.7">-2</text>
<line x1="1540" y1="746.2" x2="1532" y2="746.2" stroke="#000" stroke-width="3"/>
<text x="1500.5" y="754.2" font-size="27.5" fill="#000" font-weight="normal" font-style="normal" textLength="21" lengthAdjust="spacingAndGlyphs" stroke="#000" stroke-width="0.7">-3</text>
<line x1="1540" y1="825.5" x2="1532" y2="825.5" stroke="#000" stroke-width="3"/>
<text x="1500.5" y="833.5" font-size="27.5" fill="#000" font-weight="normal" font-style="normal" textLength="21" lengthAdjust="spacingAndGlyphs" stroke="#000" stroke-width="0.7">-4</text>
<line x1="1540" y1="547.95" x2="1535" y2="547.95" stroke="#000" stroke-width="3"/>
<line x1="1540" y1="627.25" x2="1535" y2="627.25" stroke="#000" stroke-width="3"/>
<line x1="1540" y1="706.55" x2="1535" y2="706.55" stroke="#000" stroke-width="3"/>
<line x1="1540" y1="785.85" x2="1535" y2="785.85" stroke="#000" stroke-width="3"/>
<line x1="1587.5" y1="845" x2="1587.5" y2="853" stroke="#000" stroke-width="3"/>
<text x="1561.7" y="880" font-size="28.5" fill="#000" font-weight="normal" font-style="normal" textLength="51" lengthAdjust="spacingAndGlyphs" stroke="#000" stroke-width="0.7">-0.6</text>
<line x1="1685.2" y1="845" x2="1685.2" y2="853" stroke="#000" stroke-width="3"/>
<text x="1659.4" y="880" font-size="28.5" fill="#000" font-weight="normal" font-style="normal" textLength="51" lengthAdjust="spacingAndGlyphs" stroke="#000" stroke-width="0.7">-0.5</text>
<line x1="1782.9" y1="845" x2="1782.9" y2="853" stroke="#000" stroke-width="3"/>
<text x="1757.1" y="880" font-size="28.5" fill="#000" font-weight="normal" font-style="normal" textLength="51" lengthAdjust="spacingAndGlyphs" stroke="#000" stroke-width="0.7">-0.4</text>
<line x1="1880.6" y1="845" x2="1880.6" y2="853" stroke="#000" stroke-width="3"/>
<text x="1854.8" y="880" font-size="28.5" fill="#000" font-weight="normal" font-style="normal" textLength="51" lengthAdjust="spacingAndGlyphs" stroke="#000" stroke-width="0.7">-0.3</text>
<line x1="1978.3" y1="845" x2="1978.3" y2="853" stroke="#000" stroke-width="3"/>
<text x="1952.5" y="880" font-size="28.5" fill="#000" font-weight="normal" font-style="normal" textLength="51" lengthAdjust="spacingAndGlyphs" stroke="#000" stroke-width="0.7">-0.2</text>
<line x1="2076" y1="845" x2="2076" y2="853" stroke="#000" stroke-width="3"/>
<text x="2050.2" y="880" font-size="28.5" fill="#000" font-weight="normal" font-style="normal" textLength="51" lengthAdjust="spacingAndGlyphs" stroke="#000" stroke-width="0.7">-0.1</text>
<line x1="1636.35" y1="845" x2="1636.35" y2="850" stroke="#000" stroke-width="3"/>
<line x1="1734.05" y1="845" x2="1734.05" y2="850" stroke="#000" stroke-width="3"/>
<line x1="1831.75" y1="845" x2="1831.75" y2="850" stroke="#000" stroke-width="3"/>
<line x1="1929.45" y1="845" x2="1929.45" y2="850" stroke="#000" stroke-width="3"/>
<line x1="2027.15" y1="845" x2="2027.15" y2="850" stroke="#000" stroke-width="3"/>
<text transform="translate(1637.8,913.7) scale(1.1489,1.0000)" font-size="32.5" fill="#000" font-weight="normal" stroke="#000" stroke-width="0.7"><tspan>Potential (V </tspan><tspan font-style="italic">vs.</tspan><tspan> Ag/AgCl)</tspan></text>
<text transform="translate(1483.8,828) scale(1.2621,1) rotate(-90) scale(1.0724,1)" font-size="31" fill="#000" font-weight="normal"><tspan>Current density (μA/cm</tspan><tspan font-size="18.6" dy="-13">2</tspan><tspan dy="13">)</tspan></text>
<line x1="1819.5" y1="605.5" x2="1862.5" y2="605.5" stroke="#111" stroke-width="2.4"/>
<rect x="1837.75" y="602" width="7" height="7" fill="#000"/>
<text x="1870" y="612" font-size="22" fill="#000" font-weight="normal" font-style="normal" textLength="200" lengthAdjust="spacingAndGlyphs" stroke="#000" stroke-width="0.6">DI water (light-free)</text>
<line x1="1819.5" y1="632.5" x2="1862.5" y2="632.5" stroke="#ee1111" stroke-width="2.4"/>
<circle cx="1841.25" cy="632.5" r="4" fill="#ee1111"/>
<text x="1870" y="638.75" font-size="22" fill="#ee1111" font-weight="normal" font-style="normal" textLength="205" lengthAdjust="spacingAndGlyphs" stroke="#ee1111" stroke-width="0.6">HRHBW (light-free)</text>
<line x1="1819.5" y1="659.25" x2="1862.5" y2="659.25" stroke="#1a8a1a" stroke-width="2.4"/>
<polygon points="1841.25,654.39 1836.75,662.49 1845.75,662.49" fill="#0a6a0a"/>
<text x="1870" y="665.5" font-size="22" fill="#0a7a0a" font-weight="normal" font-style="normal" textLength="156.25" lengthAdjust="spacingAndGlyphs" stroke="#0a7a0a" stroke-width="0.6">DI water (LED)</text>
<line x1="1819.5" y1="686" x2="1862.5" y2="686" stroke="#1a1aee" stroke-width="2.4"/>
<polygon points="1841.25,690.86 1836.75,682.76 1845.75,682.76" fill="#0a0aee"/>
<text x="1870" y="691.5" font-size="22" fill="#1a1aee" font-weight="normal" font-style="normal" textLength="161" lengthAdjust="spacingAndGlyphs" stroke="#1a1aee" stroke-width="0.6">HRHBW (LED)</text>
<text x="1448.8" y="479.3" font-size="48.5" fill="#000" font-weight="normal" font-style="normal" textLength="49" lengthAdjust="spacingAndGlyphs" stroke="#000" stroke-width="0.6">(f)</text>
</svg>
</body></html>
